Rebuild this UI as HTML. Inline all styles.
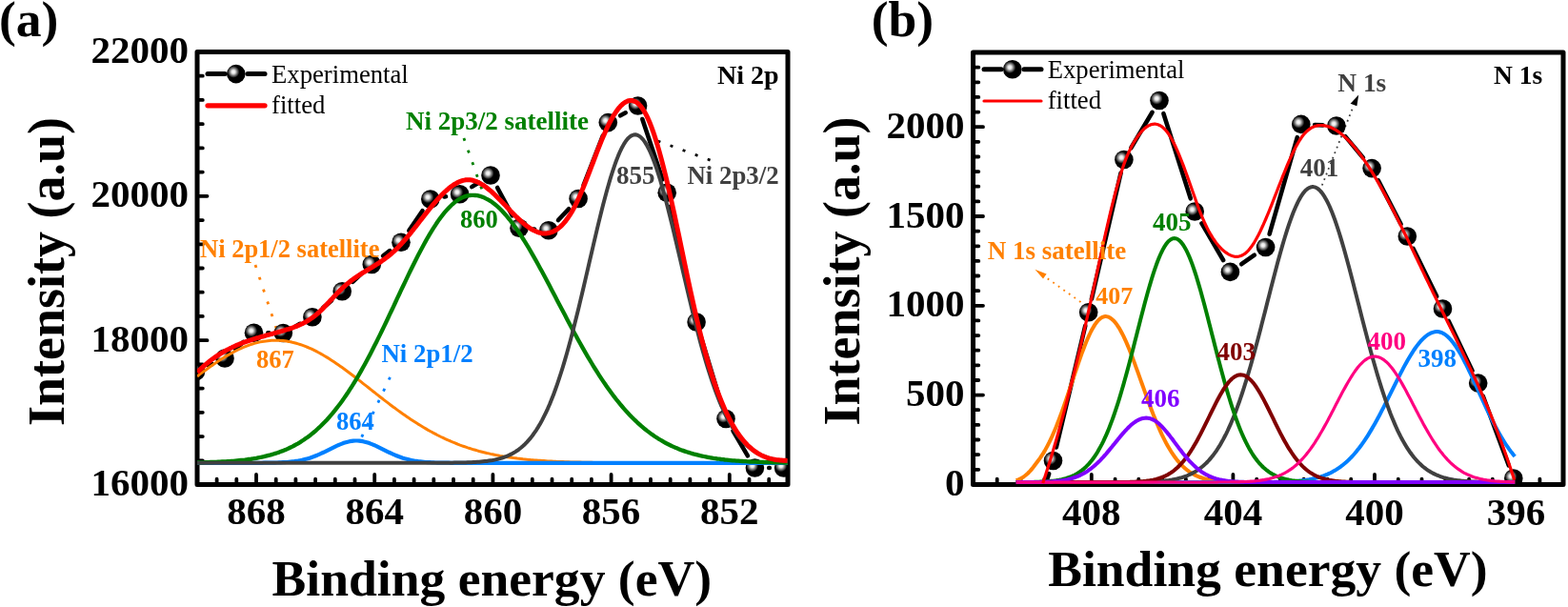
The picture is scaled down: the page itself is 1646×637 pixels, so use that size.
<!DOCTYPE html>
<html><head><meta charset="utf-8"><title>XPS spectra</title>
<style>html,body{margin:0;padding:0;background:#fff;overflow:hidden}svg{display:block}</style>
</head><body>
<svg width="1646" height="637" viewBox="0 0 1646 637">
<defs>
<radialGradient id="ball" cx="0.36" cy="0.39" r="0.32" fx="0.36" fy="0.39" gradientUnits="objectBoundingBox">
<stop offset="0" stop-color="#ffffff"/><stop offset="0.3" stop-color="#e4e4e4"/><stop offset="0.65" stop-color="#707070"/><stop offset="1" stop-color="#000"/>
</radialGradient>
<clipPath id="clipA"><rect x="207.0" y="54.5" width="620.0" height="454.0"/></clipPath>
<clipPath id="clipB"><rect x="1021.5" y="55.0" width="619.5" height="453.4"/></clipPath>
</defs>
<rect width="1646" height="637" fill="#fff"/>
<path d="M207.0,508.5 L207.0,54.5 L827.0,54.5 L827.0,508.5 Z" fill="none" stroke="#000" stroke-width="5" stroke-linejoin="round"/><path d="M269.0,508.5 V498.0 M393.2,508.5 V498.0 M517.4,508.5 V498.0 M641.6,508.5 V498.0 M765.8,508.5 V498.0 M227.6,508.5 V502.7 M248.3,508.5 V502.7 M289.7,508.5 V502.7 M310.4,508.5 V502.7 M331.1,508.5 V502.7 M351.8,508.5 V502.7 M372.5,508.5 V502.7 M413.9,508.5 V502.7 M434.6,508.5 V502.7 M455.3,508.5 V502.7 M476.0,508.5 V502.7 M496.7,508.5 V502.7 M538.1,508.5 V502.7 M558.8,508.5 V502.7 M579.5,508.5 V502.7 M600.2,508.5 V502.7 M620.9,508.5 V502.7 M662.3,508.5 V502.7 M683.0,508.5 V502.7 M703.7,508.5 V502.7 M724.4,508.5 V502.7 M745.1,508.5 V502.7 M786.5,508.5 V502.7 M807.2,508.5 V502.7 M207.0,357.2 H217.5 M207.0,205.8 H217.5 M207.0,483.3 H212.8 M207.0,458.1 H212.8 M207.0,432.8 H212.8 M207.0,407.6 H212.8 M207.0,382.4 H212.8 M207.0,331.9 H212.8 M207.0,306.7 H212.8 M207.0,281.5 H212.8 M207.0,256.3 H212.8 M207.0,231.1 H212.8 M207.0,180.6 H212.8 M207.0,155.4 H212.8 M207.0,130.2 H212.8 M207.0,104.9 H212.8 M207.0,79.7 H212.8" stroke="#000" stroke-width="3.8" stroke-linecap="round" fill="none"/>
<path d="M1021.5,508.4 L1021.5,55.0 L1641.0,55.0 L1641.0,508.4 Z" fill="none" stroke="#000" stroke-width="5" stroke-linejoin="round"/><path d="M1145.8,508.4 V497.9 M1294.4,508.4 V497.9 M1443.0,508.4 V497.9 M1591.6,508.4 V497.9 M1046.7,508.4 V502.6 M1071.5,508.4 V502.6 M1096.3,508.4 V502.6 M1121.0,508.4 V502.6 M1170.6,508.4 V502.6 M1195.3,508.4 V502.6 M1220.1,508.4 V502.6 M1244.9,508.4 V502.6 M1269.6,508.4 V502.6 M1319.2,508.4 V502.6 M1343.9,508.4 V502.6 M1368.7,508.4 V502.6 M1393.5,508.4 V502.6 M1418.2,508.4 V502.6 M1467.8,508.4 V502.6 M1492.5,508.4 V502.6 M1517.3,508.4 V502.6 M1542.1,508.4 V502.6 M1566.8,508.4 V502.6 M1616.4,508.4 V502.6 M1021.5,414.6 H1032.0 M1021.5,320.8 H1032.0 M1021.5,227.0 H1032.0 M1021.5,133.2 H1032.0 M1021.5,492.8 H1027.3 M1021.5,477.1 H1027.3 M1021.5,461.5 H1027.3 M1021.5,445.9 H1027.3 M1021.5,430.2 H1027.3 M1021.5,399.0 H1027.3 M1021.5,383.3 H1027.3 M1021.5,367.7 H1027.3 M1021.5,352.1 H1027.3 M1021.5,336.4 H1027.3 M1021.5,305.2 H1027.3 M1021.5,289.5 H1027.3 M1021.5,273.9 H1027.3 M1021.5,258.3 H1027.3 M1021.5,242.6 H1027.3 M1021.5,211.4 H1027.3 M1021.5,195.7 H1027.3 M1021.5,180.1 H1027.3 M1021.5,164.5 H1027.3 M1021.5,148.8 H1027.3 M1021.5,117.6 H1027.3 M1021.5,101.9 H1027.3 M1021.5,86.3 H1027.3 M1021.5,70.7 H1027.3" stroke="#000" stroke-width="3.8" stroke-linecap="round" fill="none"/>
<path d="M268.0,278.0 L291.0,347.5" stroke="#FF8000" stroke-width="2.8" stroke-dasharray="3 10.5" fill="none"/><path d="M409.5,395.8 L378.8,460.5" stroke="#0080FF" stroke-width="2.8" stroke-dasharray="3 10.3" fill="none"/><path d="M486.9,145.0 L506.8,201.5" stroke="#008000" stroke-width="2.8" stroke-dasharray="3 10.4" fill="none"/><path d="M690.5,148.0 L747.5,168.8" stroke="#000" stroke-width="2.8" stroke-dasharray="3 10.9" fill="none"/>
<g clip-path="url(#clipA)">
<g stroke="#000" stroke-width="4.6" stroke-linecap="round"><line x1="219.0" y1="383.6" x2="222.5" y2="382.1"/><line x1="247.1" y1="366.2" x2="255.4" y2="359.0"/><line x1="281.3" y1="349.3" x2="282.5" y2="349.4"/><line x1="310.3" y1="342.4" x2="314.9" y2="339.8"/><line x1="339.1" y1="323.0" x2="348.0" y2="315.4"/><line x1="370.2" y1="295.8" x2="379.3" y2="287.4"/><line x1="402.1" y1="268.6" x2="409.2" y2="263.1"/><line x1="429.3" y1="242.0" x2="443.5" y2="221.2"/><line x1="466.4" y1="206.5" x2="468.0" y2="206.3"/><line x1="495.2" y1="196.1" x2="502.4" y2="191.7"/><line x1="522.1" y1="197.0" x2="537.9" y2="226.3"/><line x1="559.8" y1="240.5" x2="561.1" y2="240.6"/><line x1="586.0" y1="231.0" x2="597.0" y2="219.3"/><line x1="612.5" y1="194.7" x2="632.9" y2="142.4"/><line x1="651.2" y1="121.3" x2="656.7" y2="118.3"/><line x1="674.3" y1="125.0" x2="695.5" y2="188.3"/><line x1="703.5" y1="216.7" x2="727.8" y2="323.6"/><line x1="735.4" y1="352.2" x2="757.7" y2="425.3"/><line x1="769.5" y1="452.2" x2="784.9" y2="478.3"/><line x1="807.2" y1="491.0" x2="807.8" y2="491.0"/></g>
<g fill="url(#ball)"><circle cx="205.5" cy="389.7" r="9.8"/><circle cx="236.0" cy="376.0" r="9.8"/><circle cx="266.5" cy="349.2" r="9.8"/><circle cx="297.3" cy="349.5" r="9.8"/><circle cx="327.9" cy="332.7" r="9.8"/><circle cx="359.2" cy="305.7" r="9.8"/><circle cx="390.3" cy="277.5" r="9.8"/><circle cx="421.0" cy="254.2" r="9.8"/><circle cx="451.8" cy="209.0" r="9.8"/><circle cx="482.6" cy="203.8" r="9.8"/><circle cx="515.0" cy="184.0" r="9.8"/><circle cx="545.0" cy="239.3" r="9.8"/><circle cx="575.9" cy="241.8" r="9.8"/><circle cx="607.1" cy="208.5" r="9.8"/><circle cx="638.3" cy="128.6" r="9.8"/><circle cx="669.6" cy="111.0" r="9.8"/><circle cx="700.2" cy="202.3" r="9.8"/><circle cx="731.1" cy="338.0" r="9.8"/><circle cx="762.0" cy="439.5" r="9.8"/><circle cx="792.4" cy="491.0" r="9.8"/><circle cx="822.6" cy="491.0" r="9.8"/></g>
<path d="M207.0,395.0 L209.0,393.4 211.0,391.9 213.0,390.4 215.0,388.9 217.0,387.5 219.0,386.0 221.0,384.6 223.0,383.2 225.0,381.8 227.0,380.4 229.0,379.1 231.0,377.8 233.0,376.5 235.0,375.3 237.0,374.0 239.0,372.9 241.0,371.7 243.0,370.6 245.0,369.5 247.0,368.5 249.0,367.5 251.0,366.5 253.0,365.6 255.0,364.7 257.0,363.9 259.0,363.1 261.0,362.4 263.0,361.7 265.0,361.0 267.0,360.4 269.0,359.9 271.0,359.4 273.0,358.9 275.0,358.5 277.0,358.2 279.0,357.9 281.0,357.7 283.0,357.5 285.0,357.3 287.0,357.2 289.0,357.2 291.0,357.2 293.0,357.3 295.0,357.4 297.0,357.6 299.0,357.8 301.0,358.1 303.0,358.4 305.0,358.8 307.0,359.3 309.0,359.7 311.0,360.3 313.0,360.9 315.0,361.5 317.0,362.2 319.0,362.9 321.0,363.7 323.0,364.5 325.0,365.3 327.0,366.2 329.0,367.2 331.0,368.2 333.0,369.2 335.0,370.3 337.0,371.4 339.0,372.5 341.0,373.7 343.0,374.9 345.0,376.1 347.0,377.4 349.0,378.7 351.0,380.0 353.0,381.4 355.0,382.8 357.0,384.2 359.0,385.6 361.0,387.0 363.0,388.5 365.0,390.0 367.0,391.5 369.0,393.0 371.0,394.5 373.0,396.0 375.0,397.6 377.0,399.1 379.0,400.7 381.0,402.3 383.0,403.9 385.0,405.4 387.0,407.0 389.0,408.6 391.0,410.2 393.0,411.7 395.0,413.3 397.0,414.9 399.0,416.5 401.0,418.0 403.0,419.6 405.0,421.1 407.0,422.6 409.0,424.2 411.0,425.7 413.0,427.2 415.0,428.6 417.0,430.1 419.0,431.6 421.0,433.0 423.0,434.4 425.0,435.8 427.0,437.2 429.0,438.6 431.0,439.9 433.0,441.2 435.0,442.5 437.0,443.8 439.0,445.1 441.0,446.3 443.0,447.5 445.0,448.7 447.0,449.9 449.0,451.1 451.0,452.2 453.0,453.3 455.0,454.4 457.0,455.4 459.0,456.5 461.0,457.5 463.0,458.5 465.0,459.4 467.0,460.4 469.0,461.3 471.0,462.2 473.0,463.0 475.0,463.9 477.0,464.7 479.0,465.5 481.0,466.3 483.0,467.1 485.0,467.8 487.0,468.5 489.0,469.2 491.0,469.9 493.0,470.5 495.0,471.1 497.0,471.8 499.0,472.3 501.0,472.9 503.0,473.5 505.0,474.0 507.0,474.5 509.0,475.0 511.0,475.5 513.0,475.9 515.0,476.4 517.0,476.8 519.0,477.2 521.0,477.6 523.0,478.0 525.0,478.4 527.0,478.7 529.0,479.1 531.0,479.4 533.0,479.7 535.0,480.0 537.0,480.3 539.0,480.6 541.0,480.8 543.0,481.1 545.0,481.3 547.0,481.5 549.0,481.8 551.0,482.0 553.0,482.2 555.0,482.4 557.0,482.6 559.0,482.7 561.0,482.9 563.0,483.0 565.0,483.2 567.0,483.3 569.0,483.5 571.0,483.6 573.0,483.7 575.0,483.9 577.0,484.0 579.0,484.1 581.0,484.2 583.0,484.3 585.0,484.4 587.0,484.4 589.0,484.5 591.0,484.6 593.0,484.7 595.0,484.7 597.0,484.8 599.0,484.9 601.0,484.9 603.0,485.0 605.0,485.0 607.0,485.1 609.0,485.1 611.0,485.2 613.0,485.2 615.0,485.2 617.0,485.3 619.0,485.3 621.0,485.3 623.0,485.4 625.0,485.4 627.0,485.4 629.0,485.5 631.0,485.5 633.0,485.5 635.0,485.5 637.0,485.5 639.0,485.6 641.0,485.6 643.0,485.6 645.0,485.6 647.0,485.6 649.0,485.6 651.0,485.6 653.0,485.7 655.0,485.7 657.0,485.7 659.0,485.7 661.0,485.7 663.0,485.7 665.0,485.7 667.0,485.7 669.0,485.7 671.0,485.7 673.0,485.7 675.0,485.7 677.0,485.7 679.0,485.7 681.0,485.8 683.0,485.8 685.0,485.8 687.0,485.8 689.0,485.8 691.0,485.8 693.0,485.8 695.0,485.8 697.0,485.8 699.0,485.8 701.0,485.8 703.0,485.8 705.0,485.8 707.0,485.8 709.0,485.8 711.0,485.8 713.0,485.8 715.0,485.8 717.0,485.8 719.0,485.8 721.0,485.8 723.0,485.8 725.0,485.8 727.0,485.8 729.0,485.8 731.0,485.8 733.0,485.8 735.0,485.8 737.0,485.8 739.0,485.8 741.0,485.8 743.0,485.8 745.0,485.8 747.0,485.8 749.0,485.8 751.0,485.8 753.0,485.8 755.0,485.8 757.0,485.8 759.0,485.8 761.0,485.8 763.0,485.8 765.0,485.8 767.0,485.8 769.0,485.8 771.0,485.8 773.0,485.8 775.0,485.8 777.0,485.8 779.0,485.8 781.0,485.8 783.0,485.8 785.0,485.8 787.0,485.8 789.0,485.8 791.0,485.8 793.0,485.8 795.0,485.8 797.0,485.8 799.0,485.8 801.0,485.8 803.0,485.8 805.0,485.8 807.0,485.8 809.0,485.8 811.0,485.8 813.0,485.8 815.0,485.8 817.0,485.8 819.0,485.8 821.0,485.8 823.0,485.8 825.0,485.8 827.0,485.8" fill="none" stroke="#FF8000" stroke-width="3.0" stroke-linejoin="round"/>
<path d="M207.0,485.8 L209.0,485.8 211.0,485.8 213.0,485.8 215.0,485.8 217.0,485.8 219.0,485.8 221.0,485.8 223.0,485.8 225.0,485.8 227.0,485.8 229.0,485.8 231.0,485.8 233.0,485.8 235.0,485.8 237.0,485.8 239.0,485.8 241.0,485.8 243.0,485.8 245.0,485.8 247.0,485.8 249.0,485.8 251.0,485.8 253.0,485.8 255.0,485.8 257.0,485.8 259.0,485.8 261.0,485.8 263.0,485.8 265.0,485.8 267.0,485.8 269.0,485.8 271.0,485.8 273.0,485.8 275.0,485.8 277.0,485.7 279.0,485.7 281.0,485.7 283.0,485.7 285.0,485.6 287.0,485.6 289.0,485.6 291.0,485.5 293.0,485.4 295.0,485.3 297.0,485.2 299.0,485.1 301.0,485.0 303.0,484.8 305.0,484.6 307.0,484.4 309.0,484.2 311.0,483.9 313.0,483.6 315.0,483.2 317.0,482.8 319.0,482.3 321.0,481.8 323.0,481.3 325.0,480.7 327.0,480.0 329.0,479.3 331.0,478.5 333.0,477.7 335.0,476.8 337.0,475.9 339.0,475.0 341.0,474.1 343.0,473.1 345.0,472.1 347.0,471.1 349.0,470.1 351.0,469.1 353.0,468.1 355.0,467.2 357.0,466.4 359.0,465.6 361.0,464.8 363.0,464.2 365.0,463.7 367.0,463.2 369.0,462.9 371.0,462.6 373.0,462.5 375.0,462.5 377.0,462.6 379.0,462.9 381.0,463.2 383.0,463.7 385.0,464.2 387.0,464.8 389.0,465.6 391.0,466.4 393.0,467.2 395.0,468.1 397.0,469.1 399.0,470.1 401.0,471.1 403.0,472.1 405.0,473.1 407.0,474.1 409.0,475.0 411.0,475.9 413.0,476.8 415.0,477.7 417.0,478.5 419.0,479.3 421.0,480.0 423.0,480.7 425.0,481.3 427.0,481.8 429.0,482.3 431.0,482.8 433.0,483.2 435.0,483.6 437.0,483.9 439.0,484.2 441.0,484.4 443.0,484.6 445.0,484.8 447.0,485.0 449.0,485.1 451.0,485.2 453.0,485.3 455.0,485.4 457.0,485.5 459.0,485.6 461.0,485.6 463.0,485.6 465.0,485.7 467.0,485.7 469.0,485.7 471.0,485.7 473.0,485.8 475.0,485.8 477.0,485.8 479.0,485.8 481.0,485.8 483.0,485.8 485.0,485.8 487.0,485.8 489.0,485.8 491.0,485.8 493.0,485.8 495.0,485.8 497.0,485.8 499.0,485.8 501.0,485.8 503.0,485.8 505.0,485.8 507.0,485.8 509.0,485.8 511.0,485.8 513.0,485.8 515.0,485.8 517.0,485.8 519.0,485.8 521.0,485.8 523.0,485.8 525.0,485.8 527.0,485.8 529.0,485.8 531.0,485.8 533.0,485.8 535.0,485.8 537.0,485.8 539.0,485.8 541.0,485.8 543.0,485.8 545.0,485.8 547.0,485.8 549.0,485.8 551.0,485.8 553.0,485.8 555.0,485.8 557.0,485.8 559.0,485.8 561.0,485.8 563.0,485.8 565.0,485.8 567.0,485.8 569.0,485.8 571.0,485.8 573.0,485.8 575.0,485.8 577.0,485.8 579.0,485.8 581.0,485.8 583.0,485.8 585.0,485.8 587.0,485.8 589.0,485.8 591.0,485.8 593.0,485.8 595.0,485.8 597.0,485.8 599.0,485.8 601.0,485.8 603.0,485.8 605.0,485.8 607.0,485.8 609.0,485.8 611.0,485.8 613.0,485.8 615.0,485.8 617.0,485.8 619.0,485.8 621.0,485.8 623.0,485.8 625.0,485.8 627.0,485.8 629.0,485.8 631.0,485.8 633.0,485.8 635.0,485.8 637.0,485.8 639.0,485.8 641.0,485.8 643.0,485.8 645.0,485.8 647.0,485.8 649.0,485.8 651.0,485.8 653.0,485.8 655.0,485.8 657.0,485.8 659.0,485.8 661.0,485.8 663.0,485.8 665.0,485.8 667.0,485.8 669.0,485.8 671.0,485.8 673.0,485.8 675.0,485.8 677.0,485.8 679.0,485.8 681.0,485.8 683.0,485.8 685.0,485.8 687.0,485.8 689.0,485.8 691.0,485.8 693.0,485.8 695.0,485.8 697.0,485.8 699.0,485.8 701.0,485.8 703.0,485.8 705.0,485.8 707.0,485.8 709.0,485.8 711.0,485.8 713.0,485.8 715.0,485.8 717.0,485.8 719.0,485.8 721.0,485.8 723.0,485.8 725.0,485.8 727.0,485.8 729.0,485.8 731.0,485.8 733.0,485.8 735.0,485.8 737.0,485.8 739.0,485.8 741.0,485.8 743.0,485.8 745.0,485.8 747.0,485.8 749.0,485.8 751.0,485.8 753.0,485.8 755.0,485.8 757.0,485.8 759.0,485.8 761.0,485.8 763.0,485.8 765.0,485.8 767.0,485.8 769.0,485.8 771.0,485.8 773.0,485.8 775.0,485.8 777.0,485.8 779.0,485.8 781.0,485.8 783.0,485.8 785.0,485.8 787.0,485.8 789.0,485.8 791.0,485.8 793.0,485.8 795.0,485.8 797.0,485.8 799.0,485.8 801.0,485.8 803.0,485.8 805.0,485.8 807.0,485.8 809.0,485.8 811.0,485.8 813.0,485.8 815.0,485.8 817.0,485.8 819.0,485.8 821.0,485.8 823.0,485.8 825.0,485.8 827.0,485.8" fill="none" stroke="#0080FF" stroke-width="4.2" stroke-linejoin="round"/>
<path d="M207.0,485.4 L209.0,485.3 211.0,485.3 213.0,485.3 215.0,485.2 217.0,485.2 219.0,485.1 221.0,485.0 223.0,485.0 225.0,484.9 227.0,484.8 229.0,484.7 231.0,484.6 233.0,484.5 235.0,484.4 237.0,484.3 239.0,484.2 241.0,484.1 243.0,483.9 245.0,483.8 247.0,483.6 249.0,483.4 251.0,483.2 253.0,483.0 255.0,482.8 257.0,482.6 259.0,482.3 261.0,482.0 263.0,481.8 265.0,481.5 267.0,481.1 269.0,480.8 271.0,480.4 273.0,480.0 275.0,479.6 277.0,479.2 279.0,478.7 281.0,478.2 283.0,477.7 285.0,477.1 287.0,476.5 289.0,475.9 291.0,475.3 293.0,474.6 295.0,473.8 297.0,473.1 299.0,472.2 301.0,471.4 303.0,470.5 305.0,469.5 307.0,468.6 309.0,467.5 311.0,466.4 313.0,465.3 315.0,464.1 317.0,462.8 319.0,461.5 321.0,460.1 323.0,458.7 325.0,457.2 327.0,455.6 329.0,454.0 331.0,452.3 333.0,450.5 335.0,448.7 337.0,446.8 339.0,444.8 341.0,442.8 343.0,440.7 345.0,438.5 347.0,436.2 349.0,433.9 351.0,431.4 353.0,428.9 355.0,426.3 357.0,423.7 359.0,421.0 361.0,418.1 363.0,415.2 365.0,412.3 367.0,409.2 369.0,406.1 371.0,402.9 373.0,399.6 375.0,396.3 377.0,392.9 379.0,389.4 381.0,385.8 383.0,382.2 385.0,378.5 387.0,374.7 389.0,370.9 391.0,367.0 393.0,363.1 395.0,359.2 397.0,355.1 399.0,351.1 401.0,347.0 403.0,342.8 405.0,338.7 407.0,334.5 409.0,330.2 411.0,326.0 413.0,321.8 415.0,317.5 417.0,313.2 419.0,309.0 421.0,304.7 423.0,300.5 425.0,296.3 427.0,292.1 429.0,287.9 431.0,283.8 433.0,279.7 435.0,275.7 437.0,271.7 439.0,267.8 441.0,263.9 443.0,260.2 445.0,256.5 447.0,252.9 449.0,249.3 451.0,245.9 453.0,242.6 455.0,239.4 457.0,236.3 459.0,233.3 461.0,230.4 463.0,227.7 465.0,225.1 467.0,222.7 469.0,220.4 471.0,218.2 473.0,216.2 475.0,214.3 477.0,212.6 479.0,211.1 481.0,209.7 483.0,208.5 485.0,207.4 487.0,206.6 489.0,205.9 491.0,205.3 493.0,205.0 495.0,204.8 497.0,204.8 499.0,205.0 501.0,205.2 503.0,205.7 505.0,206.2 507.0,206.9 509.0,207.8 511.0,208.8 513.0,209.9 515.0,211.1 517.0,212.5 519.0,214.0 521.0,215.7 523.0,217.4 525.0,219.3 527.0,221.3 529.0,223.5 531.0,225.7 533.0,228.1 535.0,230.5 537.0,233.1 539.0,235.8 541.0,238.5 543.0,241.4 545.0,244.3 547.0,247.3 549.0,250.5 551.0,253.6 553.0,256.9 555.0,260.2 557.0,263.6 559.0,267.1 561.0,270.6 563.0,274.1 565.0,277.7 567.0,281.4 569.0,285.1 571.0,288.8 573.0,292.5 575.0,296.3 577.0,300.1 579.0,303.9 581.0,307.7 583.0,311.5 585.0,315.4 587.0,319.2 589.0,323.0 591.0,326.8 593.0,330.6 595.0,334.4 597.0,338.2 599.0,342.0 601.0,345.7 603.0,349.4 605.0,353.1 607.0,356.7 609.0,360.3 611.0,363.9 613.0,367.4 615.0,370.9 617.0,374.3 619.0,377.7 621.0,381.0 623.0,384.3 625.0,387.5 627.0,390.7 629.0,393.8 631.0,396.9 633.0,399.9 635.0,402.8 637.0,405.7 639.0,408.5 641.0,411.3 643.0,414.0 645.0,416.6 647.0,419.2 649.0,421.7 651.0,424.1 653.0,426.5 655.0,428.8 657.0,431.1 659.0,433.3 661.0,435.4 663.0,437.5 665.0,439.5 667.0,441.4 669.0,443.3 671.0,445.1 673.0,446.9 675.0,448.6 677.0,450.3 679.0,451.9 681.0,453.4 683.0,454.9 685.0,456.3 687.0,457.7 689.0,459.0 691.0,460.3 693.0,461.5 695.0,462.7 697.0,463.9 699.0,465.0 701.0,466.0 703.0,467.0 705.0,468.0 707.0,468.9 709.0,469.8 711.0,470.6 713.0,471.4 715.0,472.2 717.0,472.9 719.0,473.6 721.0,474.3 723.0,474.9 725.0,475.5 727.0,476.1 729.0,476.7 731.0,477.2 733.0,477.7 735.0,478.2 737.0,478.6 739.0,479.0 741.0,479.4 743.0,479.8 745.0,480.2 747.0,480.5 749.0,480.9 751.0,481.2 753.0,481.5 755.0,481.7 757.0,482.0 759.0,482.2 761.0,482.5 763.0,482.7 765.0,482.9 767.0,483.1 769.0,483.3 771.0,483.4 773.0,483.6 775.0,483.7 777.0,483.9 779.0,484.0 781.0,484.1 783.0,484.2 785.0,484.4 787.0,484.5 789.0,484.6 791.0,484.6 793.0,484.7 795.0,484.8 797.0,484.9 799.0,484.9 801.0,485.0 803.0,485.1 805.0,485.1 807.0,485.2 809.0,485.2 811.0,485.3 813.0,485.3 815.0,485.3 817.0,485.4 819.0,485.4 821.0,485.4 823.0,485.5 825.0,485.5 827.0,485.5" fill="none" stroke="#008000" stroke-width="4.3" stroke-linejoin="round"/>
<path d="M207.0,485.8 L209.0,485.8 211.0,485.8 213.0,485.8 215.0,485.8 217.0,485.8 219.0,485.8 221.0,485.8 223.0,485.8 225.0,485.8 227.0,485.8 229.0,485.8 231.0,485.8 233.0,485.8 235.0,485.8 237.0,485.8 239.0,485.8 241.0,485.8 243.0,485.8 245.0,485.8 247.0,485.8 249.0,485.8 251.0,485.8 253.0,485.8 255.0,485.8 257.0,485.8 259.0,485.8 261.0,485.8 263.0,485.8 265.0,485.8 267.0,485.8 269.0,485.8 271.0,485.8 273.0,485.8 275.0,485.8 277.0,485.8 279.0,485.8 281.0,485.8 283.0,485.8 285.0,485.8 287.0,485.8 289.0,485.8 291.0,485.8 293.0,485.8 295.0,485.8 297.0,485.8 299.0,485.8 301.0,485.8 303.0,485.8 305.0,485.8 307.0,485.8 309.0,485.8 311.0,485.8 313.0,485.8 315.0,485.8 317.0,485.8 319.0,485.8 321.0,485.8 323.0,485.8 325.0,485.8 327.0,485.8 329.0,485.8 331.0,485.8 333.0,485.8 335.0,485.8 337.0,485.8 339.0,485.8 341.0,485.8 343.0,485.8 345.0,485.8 347.0,485.8 349.0,485.8 351.0,485.8 353.0,485.8 355.0,485.8 357.0,485.8 359.0,485.8 361.0,485.8 363.0,485.8 365.0,485.8 367.0,485.8 369.0,485.8 371.0,485.8 373.0,485.8 375.0,485.8 377.0,485.8 379.0,485.8 381.0,485.8 383.0,485.8 385.0,485.8 387.0,485.8 389.0,485.8 391.0,485.8 393.0,485.8 395.0,485.8 397.0,485.8 399.0,485.8 401.0,485.8 403.0,485.8 405.0,485.8 407.0,485.8 409.0,485.8 411.0,485.8 413.0,485.8 415.0,485.8 417.0,485.8 419.0,485.8 421.0,485.8 423.0,485.8 425.0,485.8 427.0,485.8 429.0,485.8 431.0,485.8 433.0,485.8 435.0,485.8 437.0,485.8 439.0,485.8 441.0,485.8 443.0,485.8 445.0,485.8 447.0,485.8 449.0,485.8 451.0,485.8 453.0,485.8 455.0,485.8 457.0,485.8 459.0,485.8 461.0,485.8 463.0,485.8 465.0,485.7 467.0,485.7 469.0,485.7 471.0,485.7 473.0,485.7 475.0,485.7 477.0,485.6 479.0,485.6 481.0,485.6 483.0,485.5 485.0,485.5 487.0,485.5 489.0,485.4 491.0,485.3 493.0,485.3 495.0,485.2 497.0,485.1 499.0,485.0 501.0,484.8 503.0,484.7 505.0,484.5 507.0,484.3 509.0,484.1 511.0,483.9 513.0,483.6 515.0,483.3 517.0,483.0 519.0,482.6 521.0,482.1 523.0,481.7 525.0,481.1 527.0,480.5 529.0,479.8 531.0,479.1 533.0,478.3 535.0,477.4 537.0,476.4 539.0,475.3 541.0,474.1 543.0,472.8 545.0,471.3 547.0,469.7 549.0,468.0 551.0,466.2 553.0,464.1 555.0,461.9 557.0,459.6 559.0,457.0 561.0,454.2 563.0,451.3 565.0,448.1 567.0,444.7 569.0,441.1 571.0,437.2 573.0,433.1 575.0,428.8 577.0,424.2 579.0,419.3 581.0,414.2 583.0,408.8 585.0,403.1 587.0,397.2 589.0,391.0 591.0,384.6 593.0,377.9 595.0,371.0 597.0,363.8 599.0,356.4 601.0,348.8 603.0,341.0 605.0,333.0 607.0,324.9 609.0,316.6 611.0,308.2 613.0,299.7 615.0,291.1 617.0,282.5 619.0,273.8 621.0,265.2 623.0,256.6 625.0,248.1 627.0,239.6 629.0,231.4 631.0,223.2 633.0,215.3 635.0,207.7 637.0,200.3 639.0,193.2 641.0,186.4 643.0,180.1 645.0,174.1 647.0,168.5 649.0,163.4 651.0,158.8 653.0,154.7 655.0,151.1 657.0,148.0 659.0,145.5 661.0,143.6 663.0,142.3 665.0,141.5 667.0,141.3 669.0,141.7 671.0,142.7 673.0,144.3 675.0,146.4 677.0,149.1 679.0,152.4 681.0,156.2 683.0,160.4 685.0,165.2 687.0,170.5 689.0,176.2 691.0,182.3 693.0,188.7 695.0,195.6 697.0,202.7 699.0,210.2 701.0,217.9 703.0,225.9 705.0,234.0 707.0,242.3 709.0,250.7 711.0,259.2 713.0,267.8 715.0,276.4 717.0,285.0 719.0,293.6 721.0,302.1 723.0,310.6 725.0,318.9 727.0,327.2 729.0,335.2 731.0,343.1 733.0,350.8 735.0,358.4 737.0,365.7 739.0,372.7 741.0,379.6 743.0,386.2 745.0,392.5 747.0,398.6 749.0,404.4 751.0,410.0 753.0,415.3 755.0,420.4 757.0,425.2 759.0,429.7 761.0,434.0 763.0,438.0 765.0,441.8 767.0,445.4 769.0,448.7 771.0,451.8 773.0,454.7 775.0,457.5 777.0,460.0 779.0,462.3 781.0,464.5 783.0,466.5 785.0,468.3 787.0,470.0 789.0,471.5 791.0,473.0 793.0,474.3 795.0,475.4 797.0,476.5 799.0,477.5 801.0,478.4 803.0,479.2 805.0,479.9 807.0,480.6 809.0,481.2 811.0,481.7 813.0,482.2 815.0,482.6 817.0,483.0 819.0,483.3 821.0,483.6 823.0,483.9 825.0,484.1 827.0,484.3" fill="none" stroke="#404040" stroke-width="4.0" stroke-linejoin="round"/>
<path d="M207.0,390.8 L208.5,389.3 210.0,387.8 211.5,386.4 213.0,385.0 214.5,383.7 216.0,382.4 217.5,381.2 219.0,380.0 220.5,378.8 222.0,377.6 223.5,376.5 225.0,375.4 226.5,374.4 228.0,373.4 229.5,372.4 231.0,371.5 232.5,370.5 234.0,369.6 235.5,368.8 237.0,367.9 238.5,367.1 240.0,366.4 241.5,365.6 243.0,364.9 244.5,364.1 246.0,363.5 247.5,362.8 249.0,362.1 250.5,361.5 252.0,360.9 253.5,360.3 255.0,359.7 256.5,359.2 258.0,358.6 259.5,358.1 261.0,357.6 262.5,357.1 264.0,356.6 265.5,356.1 267.0,355.6 268.5,355.2 270.0,354.7 271.5,354.3 273.0,353.8 274.5,353.4 276.0,353.0 277.5,352.6 279.0,352.1 280.5,351.7 282.0,351.3 283.5,350.9 285.0,350.5 286.5,350.1 288.0,349.7 289.5,349.2 291.0,348.8 292.5,348.4 294.0,348.0 295.5,347.5 297.0,347.1 298.5,346.7 300.0,346.2 301.5,345.7 303.0,345.3 304.5,344.8 306.0,344.3 307.5,343.8 309.0,343.2 310.5,342.7 312.0,342.1 313.5,341.4 315.0,340.8 316.5,340.1 318.0,339.4 319.5,338.6 321.0,337.8 322.5,336.9 324.0,336.0 325.5,335.0 327.0,334.0 328.5,332.9 330.0,331.8 331.5,330.6 333.0,329.3 334.5,328.0 336.0,326.6 337.5,325.2 339.0,323.7 340.5,322.1 342.0,320.6 343.5,319.0 345.0,317.4 346.5,315.8 348.0,314.2 349.5,312.6 351.0,310.9 352.5,309.4 354.0,307.8 355.5,306.2 357.0,304.7 358.5,303.3 360.0,301.8 361.5,300.5 363.0,299.1 364.5,297.9 366.0,296.7 367.5,295.5 369.0,294.3 370.5,293.2 372.0,292.1 373.5,291.1 375.0,290.1 376.5,289.1 378.0,288.1 379.5,287.2 381.0,286.2 382.5,285.3 384.0,284.4 385.5,283.5 387.0,282.6 388.5,281.7 390.0,280.8 391.5,279.9 393.0,278.9 394.5,278.0 396.0,277.0 397.5,276.1 399.0,275.1 400.5,274.1 402.0,273.0 403.5,271.9 405.0,270.8 406.5,269.7 408.0,268.5 409.5,267.3 411.0,266.0 412.5,264.7 414.0,263.3 415.5,261.9 417.0,260.4 418.5,258.9 420.0,257.3 421.5,255.7 423.0,254.0 424.5,252.3 426.0,250.6 427.5,248.8 429.0,247.0 430.5,245.1 432.0,243.3 433.5,241.4 435.0,239.5 436.5,237.6 438.0,235.7 439.5,233.7 441.0,231.8 442.5,229.9 444.0,228.0 445.5,226.0 447.0,224.1 448.5,222.2 450.0,220.4 451.5,218.5 453.0,216.7 454.5,214.9 456.0,213.1 457.5,211.4 459.0,209.7 460.5,208.0 462.0,206.4 463.5,204.8 465.0,203.3 466.5,201.9 468.0,200.5 469.5,199.1 471.0,197.8 472.5,196.6 474.0,195.5 475.5,194.4 477.0,193.5 478.5,192.6 480.0,191.8 481.5,191.0 483.0,190.4 484.5,189.9 486.0,189.4 487.5,189.1 489.0,188.8 490.5,188.7 492.0,188.7 493.5,188.8 495.0,189.0 496.5,189.3 498.0,189.8 499.5,190.3 501.0,190.9 502.5,191.6 504.0,192.4 505.5,193.3 507.0,194.2 508.5,195.2 510.0,196.3 511.5,197.5 513.0,198.7 514.5,199.9 516.0,201.2 517.5,202.6 519.0,204.0 520.5,205.4 522.0,206.9 523.5,208.4 525.0,209.9 526.5,211.5 528.0,213.0 529.5,214.6 531.0,216.1 532.5,217.7 534.0,219.3 535.5,220.9 537.0,222.4 538.5,223.9 540.0,225.5 541.5,227.0 543.0,228.4 544.5,229.8 546.0,231.2 547.5,232.6 549.0,233.9 550.5,235.2 552.0,236.4 553.5,237.5 555.0,238.6 556.5,239.6 558.0,240.5 559.5,241.4 561.0,242.1 562.5,242.8 564.0,243.4 565.5,244.0 567.0,244.4 568.5,244.7 570.0,244.9 571.5,245.0 573.0,244.9 574.5,244.8 576.0,244.6 577.5,244.2 579.0,243.7 580.5,243.1 582.0,242.3 583.5,241.5 585.0,240.5 586.5,239.3 588.0,238.1 589.5,236.7 591.0,235.1 592.5,233.4 594.0,231.6 595.5,229.6 597.0,227.4 598.5,225.1 600.0,222.7 601.5,220.0 603.0,217.3 604.5,214.3 606.0,211.2 607.5,208.0 609.0,204.6 610.5,201.1 612.0,197.5 613.5,193.8 615.0,190.0 616.5,186.2 618.0,182.3 619.5,178.3 621.0,174.4 622.5,170.5 624.0,166.5 625.5,162.6 627.0,158.7 628.5,154.9 630.0,151.1 631.5,147.4 633.0,143.8 634.5,140.4 636.0,137.0 637.5,133.7 639.0,130.7 640.5,127.7 642.0,124.9 643.5,122.3 645.0,119.8 646.5,117.6 648.0,115.5 649.5,113.5 651.0,111.8 652.5,110.3 654.0,108.9 655.5,107.8 657.0,106.9 658.5,106.2 660.0,105.7 661.5,105.5 663.0,105.5 664.5,105.8 666.0,106.3 667.5,107.0 669.0,108.0 670.5,109.3 672.0,110.9 673.5,112.7 675.0,114.8 676.5,117.2 678.0,119.9 679.5,122.9 681.0,126.2 682.5,129.8 684.0,133.7 685.5,137.8 687.0,142.2 688.5,146.9 690.0,151.8 691.5,156.9 693.0,162.3 694.5,167.8 696.0,173.6 697.5,179.5 699.0,185.7 700.5,191.9 702.0,198.4 703.5,205.0 705.0,211.7 706.5,218.5 708.0,225.4 709.5,232.4 711.0,239.5 712.5,246.6 714.0,253.8 715.5,261.0 717.0,268.2 718.5,275.4 720.0,282.5 721.5,289.7 723.0,296.7 724.5,303.7 726.0,310.6 727.5,317.4 729.0,324.1 730.5,330.6 732.0,337.0 733.5,343.3 735.0,349.4 736.5,355.3 738.0,361.1 739.5,366.7 741.0,372.2 742.5,377.5 744.0,382.6 745.5,387.6 747.0,392.4 748.5,397.1 750.0,401.6 751.5,405.9 753.0,410.1 754.5,414.1 756.0,418.0 757.5,421.7 759.0,425.3 760.5,428.7 762.0,432.0 763.5,435.2 765.0,438.2 766.5,441.1 768.0,443.9 769.5,446.6 771.0,449.1 772.5,451.5 774.0,453.8 775.5,456.0 777.0,458.1 778.5,460.0 780.0,461.9 781.5,463.6 783.0,465.3 784.5,466.9 786.0,468.4 787.5,469.7 789.0,471.0 790.5,472.2 792.0,473.4 793.5,474.4 795.0,475.4 796.5,476.3 798.0,477.1 799.5,477.9 801.0,478.6 802.5,479.2 804.0,479.8 805.5,480.3 807.0,480.8 808.5,481.2 810.0,481.6 811.5,481.9 813.0,482.2 814.5,482.5 816.0,482.7 817.5,482.8 819.0,483.0 820.5,483.1 822.0,483.2 823.5,483.3 825.0,483.3 826.5,483.4" fill="none" stroke="#FF0000" stroke-width="5" stroke-linejoin="round"/>
</g>
<text x="210" y="270" font-size="26.5" font-weight="bold" text-anchor="start" fill="#FF8000" font-family="'Liberation Serif', 'Times New Roman', serif" >Ni 2p1/2 satellite</text><text x="269" y="386" font-size="26.5" font-weight="bold" text-anchor="start" fill="#FF8000" font-family="'Liberation Serif', 'Times New Roman', serif" >867</text><text x="400.5" y="380.2" font-size="26.8" font-weight="bold" text-anchor="start" fill="#0080FF" font-family="'Liberation Serif', 'Times New Roman', serif" >Ni 2p1/2</text><text x="353" y="450.6" font-size="26.5" font-weight="bold" text-anchor="start" fill="#0080FF" font-family="'Liberation Serif', 'Times New Roman', serif" >864</text><text x="426" y="136.1" font-size="27" font-weight="bold" text-anchor="start" fill="#008000" font-family="'Liberation Serif', 'Times New Roman', serif" >Ni 2p3/2 satellite</text><text x="483" y="239" font-size="26.5" font-weight="bold" text-anchor="start" fill="#008000" font-family="'Liberation Serif', 'Times New Roman', serif" >860</text><text x="647" y="193.3" font-size="27" font-weight="bold" text-anchor="start" fill="#404040" font-family="'Liberation Serif', 'Times New Roman', serif" >855</text><text x="721.5" y="193" font-size="26.8" font-weight="bold" text-anchor="start" fill="#404040" font-family="'Liberation Serif', 'Times New Roman', serif" >Ni 2p3/2</text>
<path d="M1134.5,317 L1095,289" stroke="#FF8000" stroke-width="1.9" stroke-dasharray="1.8 5" fill="none"/><path d="M1086.5,282.8 L1098.6,287.4 L1095.0,292.4 Z" fill="#FF8000"/><path d="M1387.8,194.5 L1420.5,112" stroke="#404040" stroke-width="1.8" stroke-dasharray="1.8 4.2" fill="none"/><path d="M1426.2,99.5 L1424.4,111.2 L1417.6,108.8 Z" fill="#000"/>
<g clip-path="url(#clipB)">
<g stroke="#000" stroke-width="4.6" stroke-linecap="round"><line x1="1072.8" y1="584.3" x2="1101.1" y2="497.2"/><line x1="1108.8" y1="469.5" x2="1139.3" y2="341.8"/><line x1="1145.9" y1="313.8" x2="1176.6" y2="181.5"/><line x1="1187.3" y1="155.2" x2="1209.6" y2="117.8"/><line x1="1221.4" y1="119.2" x2="1249.8" y2="208.3"/><line x1="1261.5" y1="234.4" x2="1284.1" y2="273.0"/><line x1="1303.2" y1="277.2" x2="1316.8" y2="267.7"/><line x1="1332.6" y1="245.7" x2="1361.8" y2="144.2"/><line x1="1380.1" y1="131.0" x2="1388.6" y2="131.4"/><line x1="1412.2" y1="143.1" x2="1430.9" y2="165.5"/><line x1="1446.8" y1="189.4" x2="1470.6" y2="235.2"/><line x1="1483.6" y1="260.9" x2="1508.2" y2="311.1"/><line x1="1520.7" y1="337.0" x2="1545.5" y2="389.1"/><line x1="1556.7" y1="415.6" x2="1583.8" y2="488.5"/></g>
<g fill="url(#ball)"><circle cx="1068.3" cy="598.0" r="9.8"/><circle cx="1105.5" cy="483.5" r="9.8"/><circle cx="1142.7" cy="327.8" r="9.8"/><circle cx="1179.9" cy="167.5" r="9.8"/><circle cx="1217.0" cy="105.5" r="9.8"/><circle cx="1254.2" cy="222.0" r="9.8"/><circle cx="1291.4" cy="285.4" r="9.8"/><circle cx="1328.6" cy="259.5" r="9.8"/><circle cx="1365.8" cy="130.4" r="9.8"/><circle cx="1402.9" cy="132.0" r="9.8"/><circle cx="1440.1" cy="176.6" r="9.8"/><circle cx="1477.3" cy="248.0" r="9.8"/><circle cx="1514.5" cy="324.0" r="9.8"/><circle cx="1551.7" cy="402.1" r="9.8"/><circle cx="1588.8" cy="502.0" r="9.8"/></g>
<path d="M1066.7,504.1 L1068.2,503.6 1069.7,503.0 1071.2,502.3 1072.7,501.5 1074.2,500.6 1075.7,499.5 1077.2,498.3 1078.7,497.0 1080.2,495.5 1081.7,493.9 1083.2,492.1 1084.7,490.3 1086.2,488.3 1087.7,486.3 1089.2,484.3 1090.7,482.3 1092.2,480.2 1093.7,477.9 1095.2,475.6 1096.7,473.1 1098.2,470.4 1099.7,467.6 1101.2,464.7 1102.7,461.6 1104.2,458.4 1105.7,455.0 1107.2,451.5 1108.7,447.9 1110.2,444.1 1111.7,440.3 1113.2,436.3 1114.7,432.2 1116.2,428.0 1117.7,423.7 1119.2,419.4 1120.7,414.9 1122.2,410.5 1123.7,406.0 1125.2,401.5 1126.7,396.9 1128.2,392.4 1129.7,388.0 1131.2,383.5 1132.7,379.2 1134.2,374.9 1135.7,370.7 1137.2,366.7 1138.7,362.8 1140.2,359.0 1141.7,355.5 1143.2,352.1 1144.7,349.0 1146.2,346.0 1147.7,343.4 1149.2,340.9 1150.7,338.8 1152.2,336.9 1153.7,335.4 1155.2,334.1 1156.7,333.1 1158.2,332.5 1159.7,332.1 1161.2,332.1 1162.7,332.4 1164.2,332.9 1165.7,333.8 1167.2,334.9 1168.7,336.2 1170.2,337.8 1171.7,339.7 1173.2,341.8 1174.7,344.1 1176.2,346.7 1177.7,349.5 1179.2,352.4 1180.7,355.6 1182.2,358.9 1183.7,362.4 1185.2,366.0 1186.7,369.8 1188.2,373.6 1189.7,377.6 1191.2,381.6 1192.7,385.8 1194.2,389.9 1195.7,394.1 1197.2,398.3 1198.7,402.5 1200.2,406.7 1201.7,410.9 1203.2,415.1 1204.7,419.2 1206.2,423.3 1207.7,427.3 1209.2,431.2 1210.7,435.1 1212.2,438.8 1213.7,442.5 1215.2,446.0 1216.7,449.5 1218.2,452.8 1219.7,456.1 1221.2,459.2 1222.7,462.1 1224.2,465.0 1225.7,467.7 1227.2,470.3 1228.7,472.8 1230.2,475.2 1231.7,477.4 1233.2,479.5 1234.7,481.5 1236.2,483.4 1237.7,485.2 1239.2,486.9 1240.7,488.4 1242.2,489.9 1243.7,491.3 1245.2,492.5 1246.7,493.7 1248.2,494.8 1249.7,495.8 1251.2,496.8 1252.7,497.6 1254.2,498.4 1255.7,499.2 1257.2,499.8 1258.7,500.5 1260.2,501.0 1261.7,501.5 1263.2,502.0 1264.7,502.4 1266.2,502.8 1267.7,503.2 1269.2,503.5 1270.7,503.8 1272.2,504.0 1273.7,504.3 1275.2,504.5 1276.7,504.7 1278.2,504.8 1279.7,505.0 1281.2,505.1 1282.7,505.2 1284.2,505.3 1285.7,505.4 1287.2,505.5 1288.7,505.6 1290.2,505.7 1291.7,505.7 1293.2,505.8 1294.7,505.8 1296.2,505.9 1297.7,505.9 1299.2,505.9 1300.7,505.9 1302.2,506.0 1303.7,506.0 1305.2,506.0 1306.7,506.0 1308.2,506.0 1309.7,506.0 1311.2,506.0 1312.7,506.1 1314.2,506.1 1315.7,506.1 1317.2,506.1 1318.7,506.1 1320.2,506.1 1321.7,506.1 1323.2,506.1 1324.7,506.1 1326.2,506.1 1327.7,506.1 1329.2,506.1 1330.7,506.1 1332.2,506.1 1333.7,506.1 1335.2,506.1 1336.7,506.1 1338.2,506.1 1339.7,506.1 1341.2,506.1 1342.7,506.1 1344.2,506.1 1345.7,506.1 1347.2,506.1 1348.7,506.1 1350.2,506.1 1351.7,506.1 1353.2,506.1 1354.7,506.1 1356.2,506.1 1357.7,506.1 1359.2,506.1 1360.7,506.1 1362.2,506.1 1363.7,506.1 1365.2,506.1 1366.7,506.1 1368.2,506.1 1369.7,506.1 1371.2,506.1 1372.7,506.1 1374.2,506.1 1375.7,506.1 1377.2,506.1 1378.7,506.1 1380.2,506.1 1381.7,506.1 1383.2,506.1 1384.7,506.1 1386.2,506.1 1387.7,506.1 1389.2,506.1 1390.7,506.1 1392.2,506.1 1393.7,506.1 1395.2,506.1 1396.7,506.1 1398.2,506.1 1399.7,506.1 1401.2,506.1 1402.7,506.1 1404.2,506.1 1405.7,506.1 1407.2,506.1 1408.7,506.1 1410.2,506.1 1411.7,506.1 1413.2,506.1 1414.7,506.1 1416.2,506.1 1417.7,506.1 1419.2,506.1 1420.7,506.1 1422.2,506.1 1423.7,506.1 1425.2,506.1 1426.7,506.1 1428.2,506.1 1429.7,506.1 1431.2,506.1 1432.7,506.1 1434.2,506.1 1435.7,506.1 1437.2,506.1 1438.7,506.1 1440.2,506.1 1441.7,506.1 1443.2,506.1 1444.7,506.1 1446.2,506.1 1447.7,506.1 1449.2,506.1 1450.7,506.1 1452.2,506.1 1453.7,506.1 1455.2,506.1 1456.7,506.1 1458.2,506.1 1459.7,506.1 1461.2,506.1 1462.7,506.1 1464.2,506.1 1465.7,506.1 1467.2,506.1 1468.7,506.1 1470.2,506.1 1471.7,506.1 1473.2,506.1 1474.7,506.1 1476.2,506.1 1477.7,506.1 1479.2,506.1 1480.7,506.1 1482.2,506.1 1483.7,506.1 1485.2,506.1 1486.7,506.1 1488.2,506.1 1489.7,506.1 1491.2,506.1 1492.7,506.1 1494.2,506.1 1495.7,506.1 1497.2,506.1 1498.7,506.1 1500.2,506.1 1501.7,506.1 1503.2,506.1 1504.7,506.1 1506.2,506.1 1507.7,506.1 1509.2,506.1 1510.7,506.1 1512.2,506.1 1513.7,506.1 1515.2,506.1 1516.7,506.1 1518.2,506.1 1519.7,506.1 1521.2,506.1 1522.7,506.1 1524.2,506.1 1525.7,506.1 1527.2,506.1 1528.7,506.1 1530.2,506.1 1531.7,506.1 1533.2,506.1 1534.7,506.1 1536.2,506.1 1537.7,506.1 1539.2,506.1 1540.7,506.1 1542.2,506.1 1543.7,506.1 1545.2,506.1 1546.7,506.1 1548.2,506.1 1549.7,506.1 1551.2,506.1 1552.7,506.1 1554.2,506.1 1555.7,506.1 1557.2,506.1 1558.7,506.1 1560.2,506.1 1561.7,506.1 1563.2,506.1 1564.7,506.1 1566.2,506.1 1567.7,506.1 1569.2,506.1 1570.7,506.1 1572.2,506.1 1573.7,506.1 1575.2,506.1 1576.7,506.1 1578.2,506.1 1579.7,506.1 1581.2,506.1 1582.7,506.1 1584.2,506.1 1585.7,506.1 1587.2,506.1 1588.7,506.1 1590.2,506.1" fill="none" stroke="#FF8000" stroke-width="4" stroke-linejoin="round"/>
<path d="M1066.7,506.1 L1068.2,506.1 1069.7,506.1 1071.2,506.1 1072.7,506.1 1074.2,506.1 1075.7,506.1 1077.2,506.1 1078.7,506.1 1080.2,506.1 1081.7,506.1 1083.2,506.1 1084.7,506.1 1086.2,506.1 1087.7,506.1 1089.2,506.1 1090.7,506.1 1092.2,506.1 1093.7,506.1 1095.2,506.1 1096.7,506.1 1098.2,506.1 1099.7,506.1 1101.2,506.1 1102.7,506.1 1104.2,506.1 1105.7,506.1 1107.2,506.1 1108.7,506.1 1110.2,506.1 1111.7,506.1 1113.2,506.1 1114.7,506.1 1116.2,506.1 1117.7,506.1 1119.2,506.1 1120.7,506.1 1122.2,506.1 1123.7,506.1 1125.2,506.1 1126.7,506.1 1128.2,506.1 1129.7,506.1 1131.2,506.1 1132.7,506.1 1134.2,506.1 1135.7,506.1 1137.2,506.1 1138.7,506.1 1140.2,506.1 1141.7,506.1 1143.2,506.1 1144.7,506.1 1146.2,506.1 1147.7,506.1 1149.2,506.1 1150.7,506.1 1152.2,506.1 1153.7,506.1 1155.2,506.1 1156.7,506.1 1158.2,506.1 1159.7,506.1 1161.2,506.1 1162.7,506.1 1164.2,506.1 1165.7,506.1 1167.2,506.1 1168.7,506.1 1170.2,506.1 1171.7,506.1 1173.2,506.1 1174.7,506.1 1176.2,506.1 1177.7,506.1 1179.2,506.1 1180.7,506.1 1182.2,506.1 1183.7,506.1 1185.2,506.1 1186.7,506.1 1188.2,506.1 1189.7,506.1 1191.2,506.1 1192.7,506.1 1194.2,506.1 1195.7,506.1 1197.2,506.1 1198.7,506.1 1200.2,506.1 1201.7,506.1 1203.2,506.1 1204.7,506.1 1206.2,506.1 1207.7,506.1 1209.2,506.1 1210.7,506.1 1212.2,506.1 1213.7,506.1 1215.2,506.1 1216.7,506.1 1218.2,506.1 1219.7,506.1 1221.2,506.1 1222.7,506.1 1224.2,506.1 1225.7,506.1 1227.2,506.1 1228.7,506.1 1230.2,506.1 1231.7,506.1 1233.2,506.1 1234.7,506.1 1236.2,506.1 1237.7,506.1 1239.2,506.1 1240.7,506.1 1242.2,506.1 1243.7,506.1 1245.2,506.1 1246.7,506.1 1248.2,506.1 1249.7,506.1 1251.2,506.1 1252.7,506.1 1254.2,506.1 1255.7,506.1 1257.2,506.1 1258.7,506.1 1260.2,506.1 1261.7,506.1 1263.2,506.1 1264.7,506.1 1266.2,506.1 1267.7,506.1 1269.2,506.1 1270.7,506.1 1272.2,506.1 1273.7,506.1 1275.2,506.1 1276.7,506.1 1278.2,506.1 1279.7,506.1 1281.2,506.1 1282.7,506.1 1284.2,506.1 1285.7,506.1 1287.2,506.1 1288.7,506.1 1290.2,506.1 1291.7,506.1 1293.2,506.1 1294.7,506.1 1296.2,506.1 1297.7,506.1 1299.2,506.1 1300.7,506.1 1302.2,506.1 1303.7,506.1 1305.2,506.1 1306.7,506.1 1308.2,506.1 1309.7,506.1 1311.2,506.1 1312.7,506.1 1314.2,506.1 1315.7,506.1 1317.2,506.1 1318.7,506.0 1320.2,506.0 1321.7,506.0 1323.2,506.0 1324.7,506.0 1326.2,506.0 1327.7,506.0 1329.2,506.0 1330.7,506.0 1332.2,505.9 1333.7,505.9 1335.2,505.9 1336.7,505.9 1338.2,505.8 1339.7,505.8 1341.2,505.8 1342.7,505.7 1344.2,505.7 1345.7,505.7 1347.2,505.6 1348.7,505.5 1350.2,505.5 1351.7,505.4 1353.2,505.3 1354.7,505.3 1356.2,505.2 1357.7,505.1 1359.2,505.0 1360.7,504.9 1362.2,504.7 1363.7,504.6 1365.2,504.4 1366.7,504.3 1368.2,504.1 1369.7,503.9 1371.2,503.7 1372.7,503.4 1374.2,503.2 1375.7,502.9 1377.2,502.6 1378.7,502.3 1380.2,502.0 1381.7,501.6 1383.2,501.2 1384.7,500.8 1386.2,500.4 1387.7,499.9 1389.2,499.4 1390.7,498.8 1392.2,498.2 1393.7,497.6 1395.2,496.9 1396.7,496.2 1398.2,495.4 1399.7,494.6 1401.2,493.8 1402.7,492.9 1404.2,491.9 1405.7,490.9 1407.2,489.8 1408.7,488.7 1410.2,487.5 1411.7,486.3 1413.2,485.0 1414.7,483.6 1416.2,482.2 1417.7,480.7 1419.2,479.1 1420.7,477.5 1422.2,475.8 1423.7,474.0 1425.2,472.1 1426.7,470.2 1428.2,468.2 1429.7,466.2 1431.2,464.1 1432.7,461.9 1434.2,459.6 1435.7,457.3 1437.2,454.9 1438.7,452.4 1440.2,449.9 1441.7,447.3 1443.2,444.7 1444.7,442.0 1446.2,439.2 1447.7,436.5 1449.2,433.6 1450.7,430.7 1452.2,427.8 1453.7,424.9 1455.2,421.9 1456.7,418.9 1458.2,415.9 1459.7,412.9 1461.2,409.9 1462.7,406.8 1464.2,403.8 1465.7,400.8 1467.2,397.8 1468.7,394.9 1470.2,391.9 1471.7,389.1 1473.2,386.2 1474.7,383.4 1476.2,380.7 1477.7,378.1 1479.2,375.5 1480.7,373.0 1482.2,370.6 1483.7,368.2 1485.2,366.0 1486.7,363.9 1488.2,361.9 1489.7,360.0 1491.2,358.2 1492.7,356.6 1494.2,355.1 1495.7,353.7 1497.2,352.5 1498.7,351.4 1500.2,350.5 1501.7,349.7 1503.2,349.1 1504.7,348.6 1506.2,348.3 1507.7,348.1 1509.2,348.1 1510.7,348.3 1512.2,348.7 1513.7,349.2 1515.2,350.0 1516.7,350.9 1518.2,352.0 1519.7,353.3 1521.2,354.7 1522.7,356.3 1524.2,358.1 1525.7,360.0 1527.2,362.0 1528.7,364.2 1530.2,366.6 1531.7,369.0 1533.2,371.6 1534.7,374.3 1536.2,377.1 1537.7,380.0 1539.2,382.9 1540.7,386.0 1542.2,389.1 1543.7,392.2 1545.2,395.4 1546.7,398.7 1548.2,401.9 1549.7,405.2 1551.2,408.5 1552.7,411.8 1554.2,415.1 1555.7,418.4 1557.2,421.7 1558.7,424.9 1560.2,428.1 1561.7,431.3 1563.2,434.4 1564.7,437.5 1566.2,440.5 1567.7,443.5 1569.2,446.4 1570.7,449.3 1572.2,452.0 1573.7,454.7 1575.2,457.3 1576.7,459.9 1578.2,462.3 1579.7,464.7 1581.2,467.0 1582.7,469.2 1584.2,471.3 1585.7,473.4 1587.2,475.3 1588.7,477.2 1590.2,479.0" fill="none" stroke="#0080FF" stroke-width="4" stroke-linejoin="round"/>
<path d="M1066.7,506.1 L1068.2,506.1 1069.7,506.1 1071.2,506.1 1072.7,506.1 1074.2,506.1 1075.7,506.1 1077.2,506.1 1078.7,506.1 1080.2,506.1 1081.7,506.1 1083.2,506.1 1084.7,506.1 1086.2,506.1 1087.7,506.1 1089.2,506.1 1090.7,506.1 1092.2,506.1 1093.7,506.1 1095.2,506.1 1096.7,506.1 1098.2,506.1 1099.7,506.1 1101.2,506.1 1102.7,506.1 1104.2,506.1 1105.7,506.1 1107.2,506.1 1108.7,506.1 1110.2,506.1 1111.7,506.1 1113.2,506.1 1114.7,506.1 1116.2,506.1 1117.7,506.1 1119.2,506.1 1120.7,506.1 1122.2,506.1 1123.7,506.1 1125.2,506.1 1126.7,506.1 1128.2,506.1 1129.7,506.1 1131.2,506.1 1132.7,506.1 1134.2,506.1 1135.7,506.1 1137.2,506.1 1138.7,506.1 1140.2,506.1 1141.7,506.1 1143.2,506.1 1144.7,506.1 1146.2,506.1 1147.7,506.1 1149.2,506.1 1150.7,506.1 1152.2,506.1 1153.7,506.1 1155.2,506.1 1156.7,506.1 1158.2,506.1 1159.7,506.1 1161.2,506.1 1162.7,506.1 1164.2,506.1 1165.7,506.1 1167.2,506.1 1168.7,506.1 1170.2,506.1 1171.7,506.1 1173.2,506.1 1174.7,506.1 1176.2,506.1 1177.7,506.1 1179.2,506.0 1180.7,506.0 1182.2,506.0 1183.7,506.0 1185.2,506.0 1186.7,506.0 1188.2,506.0 1189.7,506.0 1191.2,506.0 1192.7,505.9 1194.2,505.9 1195.7,505.9 1197.2,505.9 1198.7,505.8 1200.2,505.8 1201.7,505.8 1203.2,505.7 1204.7,505.7 1206.2,505.6 1207.7,505.6 1209.2,505.5 1210.7,505.4 1212.2,505.3 1213.7,505.3 1215.2,505.2 1216.7,505.1 1218.2,504.9 1219.7,504.8 1221.2,504.7 1222.7,504.5 1224.2,504.3 1225.7,504.2 1227.2,504.0 1228.7,503.7 1230.2,503.5 1231.7,503.2 1233.2,502.9 1234.7,502.6 1236.2,502.3 1237.7,501.9 1239.2,501.5 1240.7,501.1 1242.2,500.6 1243.7,500.1 1245.2,499.6 1246.7,499.0 1248.2,498.3 1249.7,497.6 1251.2,496.9 1252.7,496.1 1254.2,495.3 1255.7,494.4 1257.2,493.4 1258.7,492.3 1260.2,491.2 1261.7,490.0 1263.2,488.8 1264.7,487.4 1266.2,486.0 1267.7,484.5 1269.2,482.9 1270.7,481.1 1272.2,479.3 1273.7,477.4 1275.2,475.4 1276.7,473.3 1278.2,471.0 1279.7,468.7 1281.2,466.2 1282.7,463.6 1284.2,460.9 1285.7,458.0 1287.2,455.1 1288.7,452.0 1290.2,448.7 1291.7,445.4 1293.2,441.8 1294.7,438.2 1296.2,434.4 1297.7,430.5 1299.2,426.4 1300.7,422.3 1302.2,417.9 1303.7,413.5 1305.2,408.9 1306.7,404.2 1308.2,399.4 1309.7,394.4 1311.2,389.3 1312.7,384.2 1314.2,378.9 1315.7,373.5 1317.2,368.0 1318.7,362.5 1320.2,356.9 1321.7,351.2 1323.2,345.4 1324.7,339.6 1326.2,333.8 1327.7,327.9 1329.2,322.0 1330.7,316.1 1332.2,310.2 1333.7,304.3 1335.2,298.5 1336.7,292.7 1338.2,286.9 1339.7,281.2 1341.2,275.6 1342.7,270.1 1344.2,264.7 1345.7,259.4 1347.2,254.2 1348.7,249.2 1350.2,244.3 1351.7,239.6 1353.2,235.1 1354.7,230.8 1356.2,226.7 1357.7,222.8 1359.2,219.2 1360.7,215.8 1362.2,212.6 1363.7,209.7 1365.2,207.0 1366.7,204.6 1368.2,202.5 1369.7,200.7 1371.2,199.2 1372.7,198.0 1374.2,197.1 1375.7,196.5 1377.2,196.1 1378.7,196.1 1380.2,196.4 1381.7,197.0 1383.2,197.9 1384.7,199.1 1386.2,200.6 1387.7,202.4 1389.2,204.5 1390.7,206.9 1392.2,209.5 1393.7,212.4 1395.2,215.5 1396.7,218.9 1398.2,222.6 1399.7,226.5 1401.2,230.5 1402.7,234.8 1404.2,239.3 1405.7,244.0 1407.2,248.9 1408.7,253.9 1410.2,259.0 1411.7,264.3 1413.2,269.7 1414.7,275.2 1416.2,280.8 1417.7,286.5 1419.2,292.3 1420.7,298.1 1422.2,303.9 1423.7,309.8 1425.2,315.7 1426.7,321.6 1428.2,327.5 1429.7,333.4 1431.2,339.2 1432.7,345.0 1434.2,350.8 1435.7,356.5 1437.2,362.1 1438.7,367.7 1440.2,373.2 1441.7,378.5 1443.2,383.8 1444.7,389.0 1446.2,394.1 1447.7,399.0 1449.2,403.9 1450.7,408.6 1452.2,413.2 1453.7,417.6 1455.2,422.0 1456.7,426.2 1458.2,430.2 1459.7,434.2 1461.2,437.9 1462.7,441.6 1464.2,445.1 1465.7,448.5 1467.2,451.8 1468.7,454.9 1470.2,457.9 1471.7,460.7 1473.2,463.4 1474.7,466.0 1476.2,468.5 1477.7,470.9 1479.2,473.1 1480.7,475.3 1482.2,477.3 1483.7,479.2 1485.2,481.0 1486.7,482.7 1488.2,484.4 1489.7,485.9 1491.2,487.3 1492.7,488.7 1494.2,490.0 1495.7,491.1 1497.2,492.3 1498.7,493.3 1500.2,494.3 1501.7,495.2 1503.2,496.1 1504.7,496.9 1506.2,497.6 1507.7,498.3 1509.2,498.9 1510.7,499.5 1512.2,500.1 1513.7,500.6 1515.2,501.1 1516.7,501.5 1518.2,501.9 1519.7,502.3 1521.2,502.6 1522.7,502.9 1524.2,503.2 1525.7,503.5 1527.2,503.7 1528.7,503.9 1530.2,504.2 1531.7,504.3 1533.2,504.5 1534.7,504.7 1536.2,504.8 1537.7,504.9 1539.2,505.0 1540.7,505.2 1542.2,505.3 1543.7,505.3 1545.2,505.4 1546.7,505.5 1548.2,505.6 1549.7,505.6 1551.2,505.7 1552.7,505.7 1554.2,505.8 1555.7,505.8 1557.2,505.8 1558.7,505.9 1560.2,505.9 1561.7,505.9 1563.2,505.9 1564.7,505.9 1566.2,506.0 1567.7,506.0 1569.2,506.0 1570.7,506.0 1572.2,506.0 1573.7,506.0 1575.2,506.0 1576.7,506.0 1578.2,506.1 1579.7,506.1 1581.2,506.1 1582.7,506.1 1584.2,506.1 1585.7,506.1 1587.2,506.1 1588.7,506.1 1590.2,506.1" fill="none" stroke="#404040" stroke-width="4" stroke-linejoin="round"/>
<path d="M1066.7,506.1 L1068.2,506.1 1069.7,506.0 1071.2,506.0 1072.7,506.0 1074.2,506.0 1075.7,506.0 1077.2,506.0 1078.7,506.0 1080.2,506.0 1081.7,505.9 1083.2,505.9 1084.7,505.9 1086.2,505.8 1087.7,505.8 1089.2,505.8 1090.7,505.7 1092.2,505.6 1093.7,505.6 1095.2,505.5 1096.7,505.4 1098.2,505.3 1099.7,505.2 1101.2,505.1 1102.7,505.0 1104.2,504.8 1105.7,504.7 1107.2,504.5 1108.7,504.3 1110.2,504.0 1111.7,503.8 1113.2,503.5 1114.7,503.2 1116.2,502.8 1117.7,502.4 1119.2,502.0 1120.7,501.5 1122.2,501.0 1123.7,500.5 1125.2,499.8 1126.7,499.2 1128.2,498.4 1129.7,497.6 1131.2,496.7 1132.7,495.8 1134.2,494.7 1135.7,493.6 1137.2,492.4 1138.7,491.1 1140.2,489.7 1141.7,488.2 1143.2,486.6 1144.7,484.8 1146.2,483.0 1147.7,481.0 1149.2,478.8 1150.7,476.6 1152.2,474.2 1153.7,471.6 1155.2,468.9 1156.7,466.1 1158.2,463.1 1159.7,459.9 1161.2,456.6 1162.7,453.1 1164.2,449.4 1165.7,445.6 1167.2,441.6 1168.7,437.5 1170.2,433.2 1171.7,428.7 1173.2,424.1 1174.7,419.3 1176.2,414.4 1177.7,409.3 1179.2,404.1 1180.7,398.8 1182.2,393.4 1183.7,387.9 1185.2,382.2 1186.7,376.5 1188.2,370.8 1189.7,364.9 1191.2,359.1 1192.7,353.2 1194.2,347.3 1195.7,341.4 1197.2,335.5 1198.7,329.7 1200.2,324.0 1201.7,318.3 1203.2,312.8 1204.7,307.3 1206.2,302.0 1207.7,296.9 1209.2,291.9 1210.7,287.2 1212.2,282.7 1213.7,278.3 1215.2,274.3 1216.7,270.5 1218.2,267.0 1219.7,263.8 1221.2,260.9 1222.7,258.3 1224.2,256.1 1225.7,254.2 1227.2,252.7 1228.7,251.5 1230.2,250.7 1231.7,250.2 1233.2,250.1 1234.7,250.4 1236.2,251.0 1237.7,252.1 1239.2,253.4 1240.7,255.2 1242.2,257.2 1243.7,259.7 1245.2,262.4 1246.7,265.5 1248.2,268.8 1249.7,272.5 1251.2,276.4 1252.7,280.6 1254.2,285.0 1255.7,289.7 1257.2,294.6 1258.7,299.6 1260.2,304.8 1261.7,310.2 1263.2,315.7 1264.7,321.3 1266.2,327.0 1267.7,332.8 1269.2,338.7 1270.7,344.5 1272.2,350.4 1273.7,356.3 1275.2,362.2 1276.7,368.1 1278.2,373.9 1279.7,379.6 1281.2,385.3 1282.7,390.8 1284.2,396.3 1285.7,401.7 1287.2,406.9 1288.7,412.1 1290.2,417.0 1291.7,421.9 1293.2,426.6 1294.7,431.1 1296.2,435.5 1297.7,439.7 1299.2,443.8 1300.7,447.7 1302.2,451.4 1303.7,455.0 1305.2,458.4 1306.7,461.6 1308.2,464.7 1309.7,467.6 1311.2,470.4 1312.7,473.0 1314.2,475.5 1315.7,477.8 1317.2,480.0 1318.7,482.0 1320.2,484.0 1321.7,485.8 1323.2,487.4 1324.7,489.0 1326.2,490.5 1327.7,491.8 1329.2,493.1 1330.7,494.2 1332.2,495.3 1333.7,496.3 1335.2,497.2 1336.7,498.0 1338.2,498.8 1339.7,499.5 1341.2,500.2 1342.7,500.8 1344.2,501.3 1345.7,501.8 1347.2,502.2 1348.7,502.6 1350.2,503.0 1351.7,503.3 1353.2,503.6 1354.7,503.9 1356.2,504.2 1357.7,504.4 1359.2,504.6 1360.7,504.7 1362.2,504.9 1363.7,505.0 1365.2,505.2 1366.7,505.3 1368.2,505.4 1369.7,505.5 1371.2,505.5 1372.7,505.6 1374.2,505.7 1375.7,505.7 1377.2,505.8 1378.7,505.8 1380.2,505.9 1381.7,505.9 1383.2,505.9 1384.7,505.9 1386.2,506.0 1387.7,506.0 1389.2,506.0 1390.7,506.0 1392.2,506.0 1393.7,506.0 1395.2,506.0 1396.7,506.1 1398.2,506.1 1399.7,506.1 1401.2,506.1 1402.7,506.1 1404.2,506.1 1405.7,506.1 1407.2,506.1 1408.7,506.1 1410.2,506.1 1411.7,506.1 1413.2,506.1 1414.7,506.1 1416.2,506.1 1417.7,506.1 1419.2,506.1 1420.7,506.1 1422.2,506.1 1423.7,506.1 1425.2,506.1 1426.7,506.1 1428.2,506.1 1429.7,506.1 1431.2,506.1 1432.7,506.1 1434.2,506.1 1435.7,506.1 1437.2,506.1 1438.7,506.1 1440.2,506.1 1441.7,506.1 1443.2,506.1 1444.7,506.1 1446.2,506.1 1447.7,506.1 1449.2,506.1 1450.7,506.1 1452.2,506.1 1453.7,506.1 1455.2,506.1 1456.7,506.1 1458.2,506.1 1459.7,506.1 1461.2,506.1 1462.7,506.1 1464.2,506.1 1465.7,506.1 1467.2,506.1 1468.7,506.1 1470.2,506.1 1471.7,506.1 1473.2,506.1 1474.7,506.1 1476.2,506.1 1477.7,506.1 1479.2,506.1 1480.7,506.1 1482.2,506.1 1483.7,506.1 1485.2,506.1 1486.7,506.1 1488.2,506.1 1489.7,506.1 1491.2,506.1 1492.7,506.1 1494.2,506.1 1495.7,506.1 1497.2,506.1 1498.7,506.1 1500.2,506.1 1501.7,506.1 1503.2,506.1 1504.7,506.1 1506.2,506.1 1507.7,506.1 1509.2,506.1 1510.7,506.1 1512.2,506.1 1513.7,506.1 1515.2,506.1 1516.7,506.1 1518.2,506.1 1519.7,506.1 1521.2,506.1 1522.7,506.1 1524.2,506.1 1525.7,506.1 1527.2,506.1 1528.7,506.1 1530.2,506.1 1531.7,506.1 1533.2,506.1 1534.7,506.1 1536.2,506.1 1537.7,506.1 1539.2,506.1 1540.7,506.1 1542.2,506.1 1543.7,506.1 1545.2,506.1 1546.7,506.1 1548.2,506.1 1549.7,506.1 1551.2,506.1 1552.7,506.1 1554.2,506.1 1555.7,506.1 1557.2,506.1 1558.7,506.1 1560.2,506.1 1561.7,506.1 1563.2,506.1 1564.7,506.1 1566.2,506.1 1567.7,506.1 1569.2,506.1 1570.7,506.1 1572.2,506.1 1573.7,506.1 1575.2,506.1 1576.7,506.1 1578.2,506.1 1579.7,506.1 1581.2,506.1 1582.7,506.1 1584.2,506.1 1585.7,506.1 1587.2,506.1 1588.7,506.1 1590.2,506.1" fill="none" stroke="#008000" stroke-width="4" stroke-linejoin="round"/>
<path d="M1066.7,506.1 L1068.2,506.1 1069.7,506.1 1071.2,506.1 1072.7,506.1 1074.2,506.1 1075.7,506.1 1077.2,506.1 1078.7,506.1 1080.2,506.1 1081.7,506.1 1083.2,506.1 1084.7,506.1 1086.2,506.1 1087.7,506.1 1089.2,506.1 1090.7,506.1 1092.2,506.1 1093.7,506.1 1095.2,506.1 1096.7,506.1 1098.2,506.1 1099.7,506.1 1101.2,506.1 1102.7,506.1 1104.2,506.1 1105.7,506.1 1107.2,506.1 1108.7,506.1 1110.2,506.1 1111.7,506.1 1113.2,506.1 1114.7,506.1 1116.2,506.1 1117.7,506.1 1119.2,506.1 1120.7,506.1 1122.2,506.1 1123.7,506.1 1125.2,506.1 1126.7,506.1 1128.2,506.1 1129.7,506.1 1131.2,506.1 1132.7,506.1 1134.2,506.1 1135.7,506.1 1137.2,506.1 1138.7,506.1 1140.2,506.1 1141.7,506.1 1143.2,506.1 1144.7,506.1 1146.2,506.1 1147.7,506.1 1149.2,506.1 1150.7,506.1 1152.2,506.1 1153.7,506.1 1155.2,506.1 1156.7,506.1 1158.2,506.1 1159.7,506.1 1161.2,506.1 1162.7,506.1 1164.2,506.1 1165.7,506.1 1167.2,506.1 1168.7,506.1 1170.2,506.1 1171.7,506.0 1173.2,506.0 1174.7,506.0 1176.2,506.0 1177.7,506.0 1179.2,506.0 1180.7,506.0 1182.2,505.9 1183.7,505.9 1185.2,505.9 1186.7,505.8 1188.2,505.8 1189.7,505.7 1191.2,505.7 1192.7,505.6 1194.2,505.5 1195.7,505.4 1197.2,505.3 1198.7,505.2 1200.2,505.1 1201.7,504.9 1203.2,504.8 1204.7,504.6 1206.2,504.4 1207.7,504.1 1209.2,503.9 1210.7,503.6 1212.2,503.2 1213.7,502.9 1215.2,502.4 1216.7,502.0 1218.2,501.5 1219.7,500.9 1221.2,500.3 1222.7,499.7 1224.2,498.9 1225.7,498.2 1227.2,497.3 1228.7,496.4 1230.2,495.3 1231.7,494.3 1233.2,493.1 1234.7,491.8 1236.2,490.5 1237.7,489.0 1239.2,487.5 1240.7,485.8 1242.2,484.1 1243.7,482.2 1245.2,480.3 1246.7,478.3 1248.2,476.1 1249.7,473.9 1251.2,471.5 1252.7,469.1 1254.2,466.5 1255.7,463.9 1257.2,461.2 1258.7,458.4 1260.2,455.6 1261.7,452.7 1263.2,449.7 1264.7,446.7 1266.2,443.6 1267.7,440.6 1269.2,437.5 1270.7,434.4 1272.2,431.3 1273.7,428.3 1275.2,425.3 1276.7,422.4 1278.2,419.5 1279.7,416.7 1281.2,414.0 1282.7,411.4 1284.2,408.9 1285.7,406.6 1287.2,404.5 1288.7,402.5 1290.2,400.6 1291.7,399.0 1293.2,397.5 1294.7,396.3 1296.2,395.2 1297.7,394.4 1299.2,393.8 1300.7,393.4 1302.2,393.3 1303.7,393.4 1305.2,393.7 1306.7,394.2 1308.2,395.0 1309.7,396.0 1311.2,397.2 1312.7,398.6 1314.2,400.2 1315.7,401.9 1317.2,403.9 1318.7,406.0 1320.2,408.3 1321.7,410.7 1323.2,413.3 1324.7,416.0 1326.2,418.7 1327.7,421.6 1329.2,424.5 1330.7,427.5 1332.2,430.5 1333.7,433.6 1335.2,436.7 1336.7,439.7 1338.2,442.8 1339.7,445.9 1341.2,448.9 1342.7,451.9 1344.2,454.8 1345.7,457.7 1347.2,460.5 1348.7,463.2 1350.2,465.8 1351.7,468.4 1353.2,470.9 1354.7,473.2 1356.2,475.5 1357.7,477.7 1359.2,479.8 1360.7,481.7 1362.2,483.6 1363.7,485.4 1365.2,487.0 1366.7,488.6 1368.2,490.1 1369.7,491.5 1371.2,492.8 1372.7,494.0 1374.2,495.1 1375.7,496.1 1377.2,497.0 1378.7,497.9 1380.2,498.7 1381.7,499.5 1383.2,500.2 1384.7,500.8 1386.2,501.3 1387.7,501.9 1389.2,502.3 1390.7,502.7 1392.2,503.1 1393.7,503.5 1395.2,503.8 1396.7,504.1 1398.2,504.3 1399.7,504.5 1401.2,504.7 1402.7,504.9 1404.2,505.0 1405.7,505.2 1407.2,505.3 1408.7,505.4 1410.2,505.5 1411.7,505.6 1413.2,505.7 1414.7,505.7 1416.2,505.8 1417.7,505.8 1419.2,505.9 1420.7,505.9 1422.2,505.9 1423.7,506.0 1425.2,506.0 1426.7,506.0 1428.2,506.0 1429.7,506.0 1431.2,506.0 1432.7,506.0 1434.2,506.1 1435.7,506.1 1437.2,506.1 1438.7,506.1 1440.2,506.1 1441.7,506.1 1443.2,506.1 1444.7,506.1 1446.2,506.1 1447.7,506.1 1449.2,506.1 1450.7,506.1 1452.2,506.1 1453.7,506.1 1455.2,506.1 1456.7,506.1 1458.2,506.1 1459.7,506.1 1461.2,506.1 1462.7,506.1 1464.2,506.1 1465.7,506.1 1467.2,506.1 1468.7,506.1 1470.2,506.1 1471.7,506.1 1473.2,506.1 1474.7,506.1 1476.2,506.1 1477.7,506.1 1479.2,506.1 1480.7,506.1 1482.2,506.1 1483.7,506.1 1485.2,506.1 1486.7,506.1 1488.2,506.1 1489.7,506.1 1491.2,506.1 1492.7,506.1 1494.2,506.1 1495.7,506.1 1497.2,506.1 1498.7,506.1 1500.2,506.1 1501.7,506.1 1503.2,506.1 1504.7,506.1 1506.2,506.1 1507.7,506.1 1509.2,506.1 1510.7,506.1 1512.2,506.1 1513.7,506.1 1515.2,506.1 1516.7,506.1 1518.2,506.1 1519.7,506.1 1521.2,506.1 1522.7,506.1 1524.2,506.1 1525.7,506.1 1527.2,506.1 1528.7,506.1 1530.2,506.1 1531.7,506.1 1533.2,506.1 1534.7,506.1 1536.2,506.1 1537.7,506.1 1539.2,506.1 1540.7,506.1 1542.2,506.1 1543.7,506.1 1545.2,506.1 1546.7,506.1 1548.2,506.1 1549.7,506.1 1551.2,506.1 1552.7,506.1 1554.2,506.1 1555.7,506.1 1557.2,506.1 1558.7,506.1 1560.2,506.1 1561.7,506.1 1563.2,506.1 1564.7,506.1 1566.2,506.1 1567.7,506.1 1569.2,506.1 1570.7,506.1 1572.2,506.1 1573.7,506.1 1575.2,506.1 1576.7,506.1 1578.2,506.1 1579.7,506.1 1581.2,506.1 1582.7,506.1 1584.2,506.1 1585.7,506.1 1587.2,506.1 1588.7,506.1 1590.2,506.1" fill="none" stroke="#800000" stroke-width="4" stroke-linejoin="round"/>
<path d="M1066.7,506.1 L1068.2,506.1 1069.7,506.1 1071.2,506.1 1072.7,506.1 1074.2,506.1 1075.7,506.1 1077.2,506.1 1078.7,506.0 1080.2,506.0 1081.7,506.0 1083.2,506.0 1084.7,506.0 1086.2,506.0 1087.7,506.0 1089.2,505.9 1090.7,505.9 1092.2,505.9 1093.7,505.8 1095.2,505.8 1096.7,505.7 1098.2,505.7 1099.7,505.6 1101.2,505.5 1102.7,505.5 1104.2,505.4 1105.7,505.2 1107.2,505.1 1108.7,505.0 1110.2,504.8 1111.7,504.7 1113.2,504.5 1114.7,504.3 1116.2,504.0 1117.7,503.8 1119.2,503.5 1120.7,503.2 1122.2,502.8 1123.7,502.4 1125.2,502.0 1126.7,501.5 1128.2,501.0 1129.7,500.5 1131.2,499.9 1132.7,499.3 1134.2,498.6 1135.7,497.8 1137.2,497.0 1138.7,496.2 1140.2,495.3 1141.7,494.3 1143.2,493.2 1144.7,492.2 1146.2,491.0 1147.7,489.8 1149.2,488.5 1150.7,487.1 1152.2,485.7 1153.7,484.3 1155.2,482.8 1156.7,481.2 1158.2,479.6 1159.7,477.9 1161.2,476.2 1162.7,474.4 1164.2,472.6 1165.7,470.8 1167.2,469.0 1168.7,467.1 1170.2,465.3 1171.7,463.4 1173.2,461.6 1174.7,459.7 1176.2,457.9 1177.7,456.1 1179.2,454.4 1180.7,452.7 1182.2,451.1 1183.7,449.5 1185.2,448.0 1186.7,446.6 1188.2,445.3 1189.7,444.1 1191.2,443.0 1192.7,442.0 1194.2,441.1 1195.7,440.4 1197.2,439.7 1198.7,439.3 1200.2,438.9 1201.7,438.7 1203.2,438.6 1204.7,438.7 1206.2,438.9 1207.7,439.3 1209.2,439.9 1210.7,440.6 1212.2,441.4 1213.7,442.4 1215.2,443.5 1216.7,444.8 1218.2,446.2 1219.7,447.7 1221.2,449.3 1222.7,451.0 1224.2,452.7 1225.7,454.6 1227.2,456.4 1228.7,458.4 1230.2,460.3 1231.7,462.3 1233.2,464.4 1234.7,466.4 1236.2,468.4 1237.7,470.4 1239.2,472.3 1240.7,474.3 1242.2,476.2 1243.7,478.0 1245.2,479.8 1246.7,481.6 1248.2,483.3 1249.7,484.9 1251.2,486.4 1252.7,487.9 1254.2,489.3 1255.7,490.7 1257.2,491.9 1258.7,493.1 1260.2,494.3 1261.7,495.3 1263.2,496.3 1264.7,497.2 1266.2,498.1 1267.7,498.8 1269.2,499.6 1270.7,500.2 1272.2,500.8 1273.7,501.4 1275.2,501.9 1276.7,502.4 1278.2,502.8 1279.7,503.2 1281.2,503.5 1282.7,503.8 1284.2,504.1 1285.7,504.3 1287.2,504.6 1288.7,504.8 1290.2,504.9 1291.7,505.1 1293.2,505.2 1294.7,505.3 1296.2,505.4 1297.7,505.5 1299.2,505.6 1300.7,505.7 1302.2,505.7 1303.7,505.8 1305.2,505.8 1306.7,505.9 1308.2,505.9 1309.7,505.9 1311.2,506.0 1312.7,506.0 1314.2,506.0 1315.7,506.0 1317.2,506.0 1318.7,506.0 1320.2,506.1 1321.7,506.1 1323.2,506.1 1324.7,506.1 1326.2,506.1 1327.7,506.1 1329.2,506.1 1330.7,506.1 1332.2,506.1 1333.7,506.1 1335.2,506.1 1336.7,506.1 1338.2,506.1 1339.7,506.1 1341.2,506.1 1342.7,506.1 1344.2,506.1 1345.7,506.1 1347.2,506.1 1348.7,506.1 1350.2,506.1 1351.7,506.1 1353.2,506.1 1354.7,506.1 1356.2,506.1 1357.7,506.1 1359.2,506.1 1360.7,506.1 1362.2,506.1 1363.7,506.1 1365.2,506.1 1366.7,506.1 1368.2,506.1 1369.7,506.1 1371.2,506.1 1372.7,506.1 1374.2,506.1 1375.7,506.1 1377.2,506.1 1378.7,506.1 1380.2,506.1 1381.7,506.1 1383.2,506.1 1384.7,506.1 1386.2,506.1 1387.7,506.1 1389.2,506.1 1390.7,506.1 1392.2,506.1 1393.7,506.1 1395.2,506.1 1396.7,506.1 1398.2,506.1 1399.7,506.1 1401.2,506.1 1402.7,506.1 1404.2,506.1 1405.7,506.1 1407.2,506.1 1408.7,506.1 1410.2,506.1 1411.7,506.1 1413.2,506.1 1414.7,506.1 1416.2,506.1 1417.7,506.1 1419.2,506.1 1420.7,506.1 1422.2,506.1 1423.7,506.1 1425.2,506.1 1426.7,506.1 1428.2,506.1 1429.7,506.1 1431.2,506.1 1432.7,506.1 1434.2,506.1 1435.7,506.1 1437.2,506.1 1438.7,506.1 1440.2,506.1 1441.7,506.1 1443.2,506.1 1444.7,506.1 1446.2,506.1 1447.7,506.1 1449.2,506.1 1450.7,506.1 1452.2,506.1 1453.7,506.1 1455.2,506.1 1456.7,506.1 1458.2,506.1 1459.7,506.1 1461.2,506.1 1462.7,506.1 1464.2,506.1 1465.7,506.1 1467.2,506.1 1468.7,506.1 1470.2,506.1 1471.7,506.1 1473.2,506.1 1474.7,506.1 1476.2,506.1 1477.7,506.1 1479.2,506.1 1480.7,506.1 1482.2,506.1 1483.7,506.1 1485.2,506.1 1486.7,506.1 1488.2,506.1 1489.7,506.1 1491.2,506.1 1492.7,506.1 1494.2,506.1 1495.7,506.1 1497.2,506.1 1498.7,506.1 1500.2,506.1 1501.7,506.1 1503.2,506.1 1504.7,506.1 1506.2,506.1 1507.7,506.1 1509.2,506.1 1510.7,506.1 1512.2,506.1 1513.7,506.1 1515.2,506.1 1516.7,506.1 1518.2,506.1 1519.7,506.1 1521.2,506.1 1522.7,506.1 1524.2,506.1 1525.7,506.1 1527.2,506.1 1528.7,506.1 1530.2,506.1 1531.7,506.1 1533.2,506.1 1534.7,506.1 1536.2,506.1 1537.7,506.1 1539.2,506.1 1540.7,506.1 1542.2,506.1 1543.7,506.1 1545.2,506.1 1546.7,506.1 1548.2,506.1 1549.7,506.1 1551.2,506.1 1552.7,506.1 1554.2,506.1 1555.7,506.1 1557.2,506.1 1558.7,506.1 1560.2,506.1 1561.7,506.1 1563.2,506.1 1564.7,506.1 1566.2,506.1 1567.7,506.1 1569.2,506.1 1570.7,506.1 1572.2,506.1 1573.7,506.1 1575.2,506.1 1576.7,506.1 1578.2,506.1 1579.7,506.1 1581.2,506.1 1582.7,506.1 1584.2,506.1 1585.7,506.1 1587.2,506.1 1588.7,506.1 1590.2,506.1" fill="none" stroke="#8000FF" stroke-width="4" stroke-linejoin="round"/>
<path d="M1066.7,506.1 L1068.2,506.1 1069.7,506.1 1071.2,506.1 1072.7,506.1 1074.2,506.1 1075.7,506.1 1077.2,506.1 1078.7,506.1 1080.2,506.1 1081.7,506.1 1083.2,506.1 1084.7,506.1 1086.2,506.1 1087.7,506.1 1089.2,506.1 1090.7,506.1 1092.2,506.1 1093.7,506.1 1095.2,506.1 1096.7,506.1 1098.2,506.1 1099.7,506.1 1101.2,506.1 1102.7,506.1 1104.2,506.1 1105.7,506.1 1107.2,506.1 1108.7,506.1 1110.2,506.1 1111.7,506.1 1113.2,506.1 1114.7,506.1 1116.2,506.1 1117.7,506.1 1119.2,506.1 1120.7,506.1 1122.2,506.1 1123.7,506.1 1125.2,506.1 1126.7,506.1 1128.2,506.1 1129.7,506.1 1131.2,506.1 1132.7,506.1 1134.2,506.1 1135.7,506.1 1137.2,506.1 1138.7,506.1 1140.2,506.1 1141.7,506.1 1143.2,506.1 1144.7,506.1 1146.2,506.1 1147.7,506.1 1149.2,506.1 1150.7,506.1 1152.2,506.1 1153.7,506.1 1155.2,506.1 1156.7,506.1 1158.2,506.1 1159.7,506.1 1161.2,506.1 1162.7,506.1 1164.2,506.1 1165.7,506.1 1167.2,506.1 1168.7,506.1 1170.2,506.1 1171.7,506.1 1173.2,506.1 1174.7,506.1 1176.2,506.1 1177.7,506.1 1179.2,506.1 1180.7,506.1 1182.2,506.1 1183.7,506.1 1185.2,506.1 1186.7,506.1 1188.2,506.1 1189.7,506.1 1191.2,506.1 1192.7,506.1 1194.2,506.1 1195.7,506.1 1197.2,506.1 1198.7,506.1 1200.2,506.1 1201.7,506.1 1203.2,506.1 1204.7,506.1 1206.2,506.1 1207.7,506.1 1209.2,506.1 1210.7,506.1 1212.2,506.1 1213.7,506.1 1215.2,506.1 1216.7,506.1 1218.2,506.1 1219.7,506.1 1221.2,506.1 1222.7,506.1 1224.2,506.1 1225.7,506.1 1227.2,506.1 1228.7,506.1 1230.2,506.1 1231.7,506.1 1233.2,506.1 1234.7,506.1 1236.2,506.1 1237.7,506.1 1239.2,506.1 1240.7,506.1 1242.2,506.1 1243.7,506.1 1245.2,506.1 1246.7,506.1 1248.2,506.1 1249.7,506.1 1251.2,506.1 1252.7,506.1 1254.2,506.1 1255.7,506.1 1257.2,506.1 1258.7,506.1 1260.2,506.1 1261.7,506.1 1263.2,506.1 1264.7,506.1 1266.2,506.1 1267.7,506.1 1269.2,506.1 1270.7,506.1 1272.2,506.1 1273.7,506.1 1275.2,506.1 1276.7,506.1 1278.2,506.1 1279.7,506.0 1281.2,506.0 1282.7,506.0 1284.2,506.0 1285.7,506.0 1287.2,506.0 1288.7,506.0 1290.2,506.0 1291.7,505.9 1293.2,505.9 1294.7,505.9 1296.2,505.9 1297.7,505.8 1299.2,505.8 1300.7,505.8 1302.2,505.7 1303.7,505.7 1305.2,505.6 1306.7,505.5 1308.2,505.5 1309.7,505.4 1311.2,505.3 1312.7,505.2 1314.2,505.1 1315.7,505.0 1317.2,504.8 1318.7,504.7 1320.2,504.5 1321.7,504.3 1323.2,504.1 1324.7,503.9 1326.2,503.7 1327.7,503.4 1329.2,503.1 1330.7,502.8 1332.2,502.5 1333.7,502.1 1335.2,501.7 1336.7,501.3 1338.2,500.8 1339.7,500.3 1341.2,499.8 1342.7,499.2 1344.2,498.6 1345.7,497.9 1347.2,497.1 1348.7,496.4 1350.2,495.5 1351.7,494.6 1353.2,493.7 1354.7,492.7 1356.2,491.6 1357.7,490.5 1359.2,489.3 1360.7,488.0 1362.2,486.6 1363.7,485.2 1365.2,483.7 1366.7,482.1 1368.2,480.5 1369.7,478.8 1371.2,477.0 1372.7,475.1 1374.2,473.1 1375.7,471.1 1377.2,469.0 1378.7,466.8 1380.2,464.6 1381.7,462.2 1383.2,459.8 1384.7,457.4 1386.2,454.8 1387.7,452.2 1389.2,449.6 1390.7,446.9 1392.2,444.2 1393.7,441.4 1395.2,438.5 1396.7,435.7 1398.2,432.8 1399.7,429.9 1401.2,427.0 1402.7,424.1 1404.2,421.2 1405.7,418.3 1407.2,415.4 1408.7,412.6 1410.2,409.8 1411.7,407.1 1413.2,404.4 1414.7,401.7 1416.2,399.2 1417.7,396.7 1419.2,394.3 1420.7,392.0 1422.2,389.8 1423.7,387.8 1425.2,385.8 1426.7,384.0 1428.2,382.3 1429.7,380.8 1431.2,379.4 1432.7,378.1 1434.2,377.1 1435.7,376.1 1437.2,375.4 1438.7,374.8 1440.2,374.4 1441.7,374.2 1443.2,374.1 1444.7,374.2 1446.2,374.5 1447.7,375.0 1449.2,375.6 1450.7,376.4 1452.2,377.3 1453.7,378.5 1455.2,379.7 1456.7,381.2 1458.2,382.7 1459.7,384.5 1461.2,386.3 1462.7,388.3 1464.2,390.4 1465.7,392.6 1467.2,394.9 1468.7,397.3 1470.2,399.8 1471.7,402.4 1473.2,405.1 1474.7,407.8 1476.2,410.5 1477.7,413.4 1479.2,416.2 1480.7,419.1 1482.2,422.0 1483.7,424.9 1485.2,427.8 1486.7,430.7 1488.2,433.6 1489.7,436.4 1491.2,439.3 1492.7,442.1 1494.2,444.9 1495.7,447.6 1497.2,450.3 1498.7,452.9 1500.2,455.5 1501.7,458.0 1503.2,460.5 1504.7,462.9 1506.2,465.2 1507.7,467.4 1509.2,469.6 1510.7,471.7 1512.2,473.7 1513.7,475.6 1515.2,477.5 1516.7,479.2 1518.2,480.9 1519.7,482.6 1521.2,484.1 1522.7,485.6 1524.2,487.0 1525.7,488.3 1527.2,489.6 1528.7,490.8 1530.2,491.9 1531.7,492.9 1533.2,493.9 1534.7,494.9 1536.2,495.8 1537.7,496.6 1539.2,497.3 1540.7,498.1 1542.2,498.7 1543.7,499.3 1545.2,499.9 1546.7,500.5 1548.2,501.0 1549.7,501.4 1551.2,501.8 1552.7,502.2 1554.2,502.6 1555.7,502.9 1557.2,503.2 1558.7,503.5 1560.2,503.7 1561.7,504.0 1563.2,504.2 1564.7,504.4 1566.2,504.6 1567.7,504.7 1569.2,504.9 1570.7,505.0 1572.2,505.1 1573.7,505.2 1575.2,505.3 1576.7,505.4 1578.2,505.5 1579.7,505.5 1581.2,505.6 1582.7,505.7 1584.2,505.7 1585.7,505.8 1587.2,505.8 1588.7,505.8 1590.2,505.9" fill="none" stroke="#FF0080" stroke-width="3.2" stroke-linejoin="round"/>
<path d="M1094.7,507.1 L1096.2,502.6 1097.7,498.0 1099.2,493.3 1100.7,488.6 1102.2,483.7 1103.7,478.8 1105.2,473.9 1106.7,468.8 1108.2,463.7 1109.7,458.5 1111.2,453.2 1112.7,447.9 1114.2,442.4 1115.7,437.0 1117.2,431.4 1118.7,425.8 1120.2,420.1 1121.7,414.3 1123.2,408.5 1124.7,402.6 1126.2,396.6 1127.7,390.6 1129.2,384.5 1130.7,378.3 1132.2,372.1 1133.7,365.8 1135.2,359.4 1136.7,353.0 1138.2,346.5 1139.7,339.9 1141.2,333.3 1142.7,326.7 1144.2,319.9 1145.7,313.2 1147.2,306.3 1148.7,299.4 1150.2,292.5 1151.7,285.6 1153.2,278.6 1154.7,271.7 1156.2,264.8 1157.7,257.9 1159.2,251.1 1160.7,244.4 1162.2,237.8 1163.7,231.3 1165.2,224.9 1166.7,218.6 1168.2,212.6 1169.7,206.6 1171.2,200.9 1172.7,195.4 1174.2,190.1 1175.7,185.0 1177.2,180.2 1178.7,175.7 1180.2,171.4 1181.7,167.4 1183.2,163.7 1184.7,160.3 1186.2,157.1 1187.7,154.1 1189.2,151.3 1190.7,148.7 1192.2,146.3 1193.7,144.0 1195.2,141.9 1196.7,140.0 1198.2,138.2 1199.7,136.6 1201.2,135.1 1202.7,133.9 1204.2,132.8 1205.7,131.9 1207.2,131.2 1208.7,130.6 1210.2,130.3 1211.7,130.2 1213.2,130.2 1214.7,130.5 1216.2,131.0 1217.7,131.7 1219.2,132.6 1220.7,133.8 1222.2,135.1 1223.7,136.7 1225.2,138.5 1226.7,140.6 1228.2,142.9 1229.7,145.5 1231.2,148.2 1232.7,151.2 1234.2,154.3 1235.7,157.7 1237.2,161.1 1238.7,164.8 1240.2,168.5 1241.7,172.4 1243.2,176.4 1244.7,180.5 1246.2,184.6 1247.7,188.8 1249.2,193.0 1250.7,197.3 1252.2,201.5 1253.7,205.8 1255.2,210.0 1256.7,214.2 1258.2,218.2 1259.7,222.2 1261.2,225.9 1262.7,229.5 1264.2,233.0 1265.7,236.2 1267.2,239.3 1268.7,242.2 1270.2,244.9 1271.7,247.4 1273.2,249.8 1274.7,252.0 1276.2,254.1 1277.7,256.1 1279.2,257.9 1280.7,259.5 1282.2,261.1 1283.7,262.5 1285.2,263.7 1286.7,264.9 1288.2,265.9 1289.7,266.8 1291.2,267.6 1292.7,268.3 1294.2,268.8 1295.7,269.1 1297.2,269.3 1298.7,269.3 1300.2,269.1 1301.7,268.8 1303.2,268.2 1304.7,267.5 1306.2,266.6 1307.7,265.5 1309.2,264.1 1310.7,262.6 1312.2,260.8 1313.7,258.8 1315.2,256.6 1316.7,254.3 1318.2,251.7 1319.7,249.0 1321.2,246.2 1322.7,243.2 1324.2,240.0 1325.7,236.8 1327.2,233.4 1328.7,230.0 1330.2,226.4 1331.7,222.8 1333.2,219.1 1334.7,215.3 1336.2,211.5 1337.7,207.7 1339.2,203.9 1340.7,200.0 1342.2,196.1 1343.7,192.3 1345.2,188.5 1346.7,184.7 1348.2,181.0 1349.7,177.3 1351.2,173.7 1352.7,170.2 1354.2,166.8 1355.7,163.5 1357.2,160.3 1358.7,157.2 1360.2,154.3 1361.7,151.6 1363.2,149.0 1364.7,146.6 1366.2,144.3 1367.7,142.3 1369.2,140.5 1370.7,138.9 1372.2,137.4 1373.7,136.2 1375.2,135.1 1376.7,134.2 1378.2,133.4 1379.7,132.7 1381.2,132.3 1382.7,131.9 1384.2,131.7 1385.7,131.5 1387.2,131.5 1388.7,131.6 1390.2,131.8 1391.7,132.1 1393.2,132.5 1394.7,132.9 1396.2,133.5 1397.7,134.1 1399.2,134.8 1400.7,135.6 1402.2,136.4 1403.7,137.4 1405.2,138.4 1406.7,139.5 1408.2,140.6 1409.7,141.9 1411.2,143.2 1412.7,144.6 1414.2,146.0 1415.7,147.5 1417.2,149.1 1418.7,150.7 1420.2,152.4 1421.7,154.2 1423.2,156.0 1424.7,157.9 1426.2,159.8 1427.7,161.8 1429.2,163.9 1430.7,166.0 1432.2,168.2 1433.7,170.4 1435.2,172.6 1436.7,174.9 1438.2,177.3 1439.7,179.7 1441.2,182.1 1442.7,184.6 1444.2,187.1 1445.7,189.7 1447.2,192.3 1448.7,194.9 1450.2,197.6 1451.7,200.3 1453.2,203.1 1454.7,205.8 1456.2,208.7 1457.7,211.5 1459.2,214.4 1460.7,217.2 1462.2,220.2 1463.7,223.1 1465.2,226.1 1466.7,229.0 1468.2,232.1 1469.7,235.1 1471.2,238.1 1472.7,241.2 1474.2,244.2 1475.7,247.3 1477.2,250.4 1478.7,253.5 1480.2,256.6 1481.7,259.8 1483.2,262.9 1484.7,266.0 1486.2,269.2 1487.7,272.3 1489.2,275.5 1490.7,278.6 1492.2,281.8 1493.7,284.9 1495.2,288.0 1496.7,291.2 1498.2,294.3 1499.7,297.4 1501.2,300.5 1502.7,303.6 1504.2,306.7 1505.7,309.8 1507.2,312.8 1508.7,315.9 1510.2,318.9 1511.7,321.9 1513.2,325.0 1514.7,328.0 1516.2,331.0 1517.7,334.0 1519.2,337.0 1520.7,340.0 1522.2,343.1 1523.7,346.1 1525.2,349.1 1526.7,352.1 1528.2,355.1 1529.7,358.2 1531.2,361.2 1532.7,364.3 1534.2,367.4 1535.7,370.5 1537.2,373.6 1538.7,376.7 1540.2,379.8 1541.7,383.0 1543.2,386.1 1544.7,389.3 1546.2,392.6 1547.7,395.8 1549.2,399.1 1550.7,402.4 1552.2,405.7 1553.7,409.1 1555.2,412.5 1556.7,415.9 1558.2,419.4 1559.7,422.9 1561.2,426.4 1562.7,430.0 1564.2,433.6 1565.7,437.3 1567.2,441.1 1568.7,444.8 1570.2,448.7 1571.7,452.5 1573.2,456.5 1574.7,460.5 1576.2,464.5 1577.7,468.6 1579.2,472.8 1580.7,477.0 1582.2,481.3 1583.7,485.7 1585.2,490.1 1586.7,494.6 1588.2,499.1 1589.7,503.8" fill="none" stroke="#FF0000" stroke-width="3.2" stroke-linejoin="round"/>
</g>
<text x="1036.8" y="272.2" font-size="27" font-weight="bold" text-anchor="start" fill="#FF8000" font-family="'Liberation Serif', 'Times New Roman', serif" >N 1s satellite</text><text x="1150.2" y="318.5" font-size="26" font-weight="bold" text-anchor="start" fill="#FF8000" font-family="'Liberation Serif', 'Times New Roman', serif" >407</text><text x="1210" y="242" font-size="27" font-weight="bold" text-anchor="start" fill="#008000" font-family="'Liberation Serif', 'Times New Roman', serif" >405</text><text x="1198.1" y="426.8" font-size="27" font-weight="bold" text-anchor="start" fill="#8000FF" font-family="'Liberation Serif', 'Times New Roman', serif" >406</text><text x="1277.5" y="377.6" font-size="27" font-weight="bold" text-anchor="start" fill="#800000" font-family="'Liberation Serif', 'Times New Roman', serif" >403</text><text x="1364.8" y="184.6" font-size="27" font-weight="bold" text-anchor="start" fill="#404040" font-family="'Liberation Serif', 'Times New Roman', serif" >401</text><text x="1435.6" y="366.6" font-size="27" font-weight="bold" text-anchor="start" fill="#FF0080" font-family="'Liberation Serif', 'Times New Roman', serif" >400</text><text x="1488.5" y="384.8" font-size="27" font-weight="bold" text-anchor="start" fill="#0080FF" font-family="'Liberation Serif', 'Times New Roman', serif" >398</text><text x="1404.3" y="96.1" font-size="27.4" font-weight="bold" text-anchor="start" fill="#404040" font-family="'Liberation Serif', 'Times New Roman', serif" >N 1s</text>
<text x="-1" y="38" font-size="53.5" font-weight="bold" text-anchor="start" fill="#000" font-family="'Liberation Serif', 'Times New Roman', serif" >(a)</text><text x="914.8" y="38.4" font-size="53.5" font-weight="bold" text-anchor="start" fill="#000" font-family="'Liberation Serif', 'Times New Roman', serif" >(b)</text><text x="198" y="520.0" font-size="41" font-weight="bold" text-anchor="end" fill="#000" font-family="'Liberation Serif', 'Times New Roman', serif" >16000</text><text x="198" y="368.6666666666667" font-size="41" font-weight="bold" text-anchor="end" fill="#000" font-family="'Liberation Serif', 'Times New Roman', serif" >18000</text><text x="198" y="217.33333333333337" font-size="41" font-weight="bold" text-anchor="end" fill="#000" font-family="'Liberation Serif', 'Times New Roman', serif" >20000</text><text x="198" y="66.00000000000006" font-size="41" font-weight="bold" text-anchor="end" fill="#000" font-family="'Liberation Serif', 'Times New Roman', serif" >22000</text><text x="1012.5" y="519.9" font-size="41" font-weight="bold" text-anchor="end" fill="#000" font-family="'Liberation Serif', 'Times New Roman', serif" >0</text><text x="1012.5" y="426.09999999999997" font-size="41" font-weight="bold" text-anchor="end" fill="#000" font-family="'Liberation Serif', 'Times New Roman', serif" >500</text><text x="1012.5" y="332.29999999999995" font-size="41" font-weight="bold" text-anchor="end" fill="#000" font-family="'Liberation Serif', 'Times New Roman', serif" >1000</text><text x="1012.5" y="238.5" font-size="41" font-weight="bold" text-anchor="end" fill="#000" font-family="'Liberation Serif', 'Times New Roman', serif" >1500</text><text x="1012.5" y="144.7" font-size="41" font-weight="bold" text-anchor="end" fill="#000" font-family="'Liberation Serif', 'Times New Roman', serif" >2000</text><text x="269.0" y="550" font-size="41" font-weight="bold" text-anchor="middle" fill="#000" font-family="'Liberation Serif', 'Times New Roman', serif" >868</text><text x="393.2" y="550" font-size="41" font-weight="bold" text-anchor="middle" fill="#000" font-family="'Liberation Serif', 'Times New Roman', serif" >864</text><text x="517.4" y="550" font-size="41" font-weight="bold" text-anchor="middle" fill="#000" font-family="'Liberation Serif', 'Times New Roman', serif" >860</text><text x="641.6" y="550" font-size="41" font-weight="bold" text-anchor="middle" fill="#000" font-family="'Liberation Serif', 'Times New Roman', serif" >856</text><text x="765.8" y="550" font-size="41" font-weight="bold" text-anchor="middle" fill="#000" font-family="'Liberation Serif', 'Times New Roman', serif" >852</text><text x="1145.8" y="550.5" font-size="41" font-weight="bold" text-anchor="middle" fill="#000" font-family="'Liberation Serif', 'Times New Roman', serif" >408</text><text x="1294.3999999999999" y="550.5" font-size="41" font-weight="bold" text-anchor="middle" fill="#000" font-family="'Liberation Serif', 'Times New Roman', serif" >404</text><text x="1443.0" y="550.5" font-size="41" font-weight="bold" text-anchor="middle" fill="#000" font-family="'Liberation Serif', 'Times New Roman', serif" >400</text><text x="1591.6" y="550.5" font-size="41" font-weight="bold" text-anchor="middle" fill="#000" font-family="'Liberation Serif', 'Times New Roman', serif" >396</text><text x="516.3" y="624.7" font-size="53.6" font-weight="bold" text-anchor="middle" fill="#000" font-family="'Liberation Serif', 'Times New Roman', serif" >Binding energy (eV)</text><text x="1330.9" y="614.6" font-size="53.6" font-weight="bold" text-anchor="middle" fill="#000" font-family="'Liberation Serif', 'Times New Roman', serif" >Binding energy (eV)</text><text x="0" y="0" font-size="54" font-weight="bold" text-anchor="middle" fill="#000" font-family="'Liberation Serif', 'Times New Roman', serif" transform="translate(67.1,285) rotate(-90)">Intensity (a.u)</text><text x="0" y="0" font-size="54" font-weight="bold" text-anchor="middle" fill="#000" font-family="'Liberation Serif', 'Times New Roman', serif" transform="translate(901.5,284.5) rotate(-90)">Intensity (a.u)</text>
<g stroke="#000" stroke-width="5" stroke-linecap="round"><line x1="218" y1="77.6" x2="236" y2="77.6"/><line x1="260" y1="77.6" x2="278" y2="77.6"/></g><circle cx="247.8" cy="77.6" r="9.8" fill="url(#ball)"/><line x1="218" y1="110.8" x2="278" y2="110.8" stroke="#FF0000" stroke-width="5.2" stroke-linecap="round"/><g stroke="#000" stroke-width="5" stroke-linecap="round"><line x1="1033" y1="72.8" x2="1051" y2="72.8"/><line x1="1075" y1="72.8" x2="1093" y2="72.8"/></g><circle cx="1062.8" cy="72.8" r="9.8" fill="url(#ball)"/><line x1="1033" y1="106" x2="1093" y2="106" stroke="#FF0000" stroke-width="3.2" stroke-linecap="round"/><text x="285" y="86.8" font-size="26.7" font-weight="normal" text-anchor="start" fill="#000" font-family="'Liberation Serif', 'Times New Roman', serif" >Experimental</text><text x="285" y="119.2" font-size="26.7" font-weight="normal" text-anchor="start" fill="#000" font-family="'Liberation Serif', 'Times New Roman', serif" >fitted</text><text x="1099.7" y="82" font-size="26.7" font-weight="normal" text-anchor="start" fill="#000" font-family="'Liberation Serif', 'Times New Roman', serif" >Experimental</text><text x="1099.7" y="114.1" font-size="26.7" font-weight="normal" text-anchor="start" fill="#000" font-family="'Liberation Serif', 'Times New Roman', serif" >fitted</text><text x="817.7" y="87.9" font-size="28" font-weight="bold" text-anchor="end" fill="#000" font-family="'Liberation Serif', 'Times New Roman', serif" >Ni 2p</text><text x="1619.3" y="88" font-size="27.5" font-weight="bold" text-anchor="end" fill="#000" font-family="'Liberation Serif', 'Times New Roman', serif" >N 1s</text>
</svg>
</body></html>
